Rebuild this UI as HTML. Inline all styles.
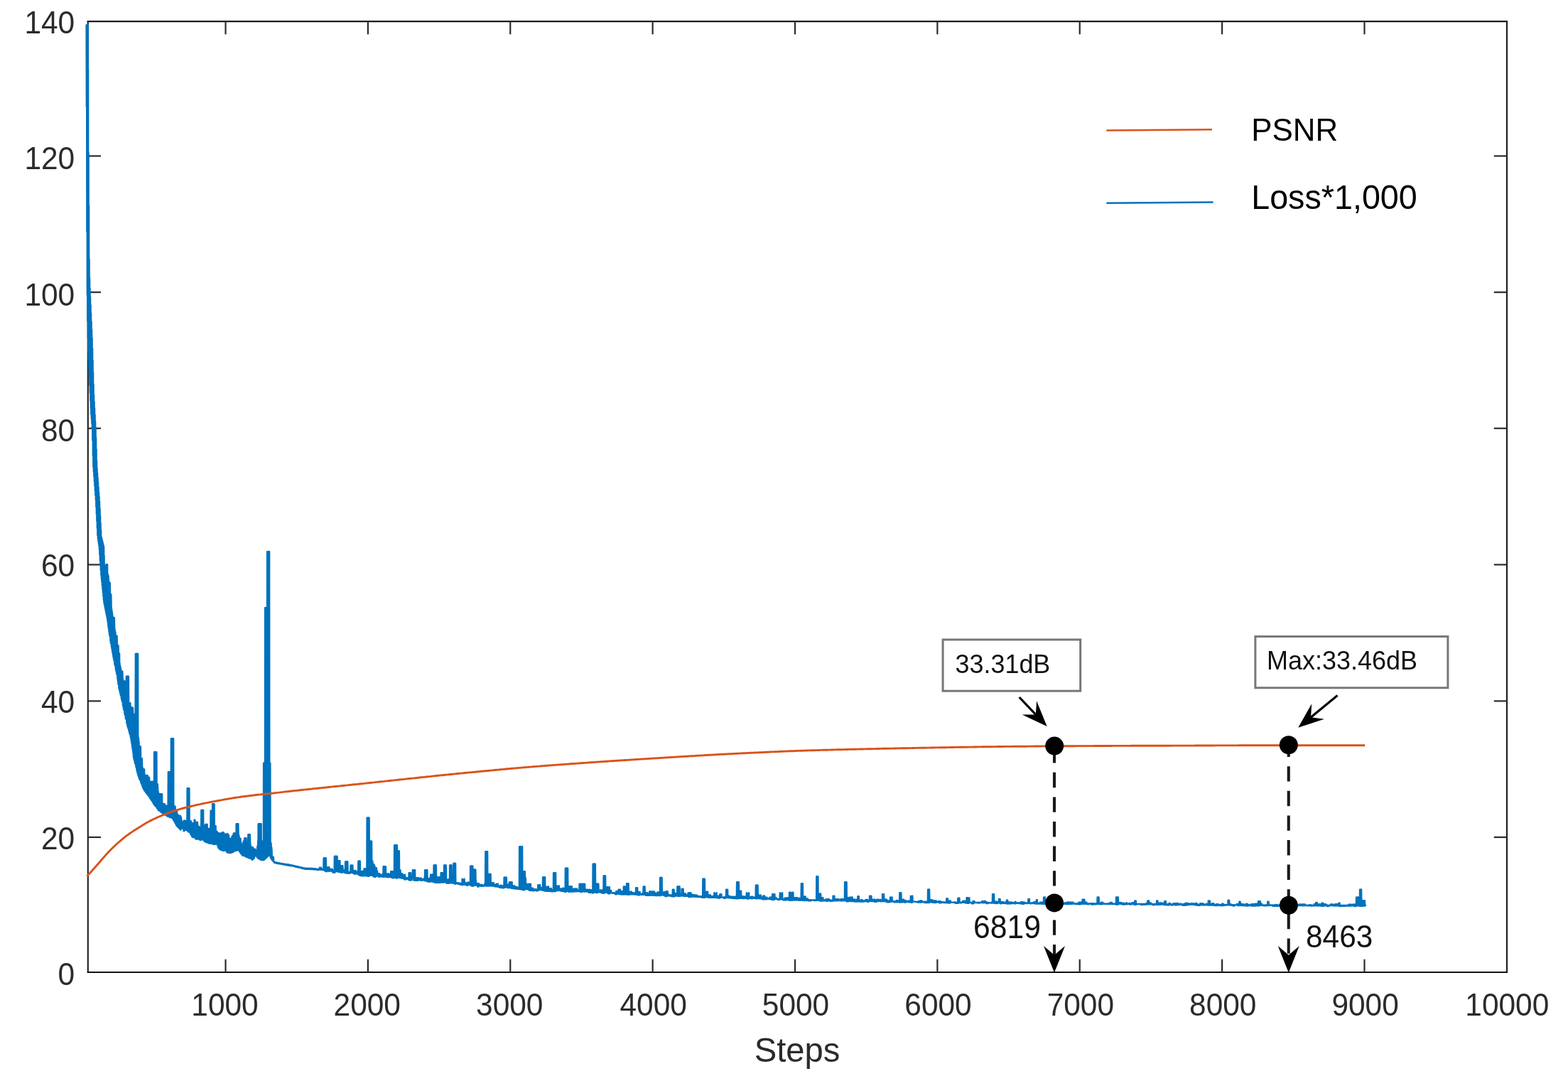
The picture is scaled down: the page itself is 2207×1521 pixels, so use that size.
<!DOCTYPE html>
<html lang="en">
<head>
<meta charset="utf-8">
<title>PSNR and Loss vs Steps</title>
<style>
html,body{margin:0;padding:0;background:#fff;}
body{width:2207px;height:1521px;overflow:hidden;}
svg{display:block;}
</style>
</head>
<body>
<svg width="2207" height="1521" viewBox="0 0 2207 1521" font-family="'Liberation Sans', sans-serif" role="img" aria-label="PSNR and Loss*1,000 versus training steps">
<rect x="0" y="0" width="2207" height="1521" fill="#ffffff"/>
<g fill="none" stroke-linecap="square">
<line x1="123.8" y1="30.1" x2="123.8" y2="1368.0" stroke="#262626" stroke-width="2.2"/>
<line x1="2121.0" y1="30.1" x2="2121.0" y2="1368.0" stroke="#1c1c1c" stroke-width="2.1"/>
<line x1="123.8" y1="30.1" x2="2121.0" y2="30.1" stroke="#1c1c1c" stroke-width="2.1"/>
<line x1="123.8" y1="1368.0" x2="2121.0" y2="1368.0" stroke="#101010" stroke-width="1.9"/>
</g>
<g stroke="#2b2b2b" stroke-width="2.2" fill="none" stroke-linecap="butt">
<line x1="317.50" y1="1368.0" x2="317.50" y2="1349.80"/>
<line x1="317.50" y1="30.1" x2="317.50" y2="48.30"/>
<line x1="517.88" y1="1368.0" x2="517.88" y2="1349.80"/>
<line x1="517.88" y1="30.1" x2="517.88" y2="48.30"/>
<line x1="718.25" y1="1368.0" x2="718.25" y2="1349.80"/>
<line x1="718.25" y1="30.1" x2="718.25" y2="48.30"/>
<line x1="918.62" y1="1368.0" x2="918.62" y2="1349.80"/>
<line x1="918.62" y1="30.1" x2="918.62" y2="48.30"/>
<line x1="1119.00" y1="1368.0" x2="1119.00" y2="1349.80"/>
<line x1="1119.00" y1="30.1" x2="1119.00" y2="48.30"/>
<line x1="1319.38" y1="1368.0" x2="1319.38" y2="1349.80"/>
<line x1="1319.38" y1="30.1" x2="1319.38" y2="48.30"/>
<line x1="1519.75" y1="1368.0" x2="1519.75" y2="1349.80"/>
<line x1="1519.75" y1="30.1" x2="1519.75" y2="48.30"/>
<line x1="1720.12" y1="1368.0" x2="1720.12" y2="1349.80"/>
<line x1="1720.12" y1="30.1" x2="1720.12" y2="48.30"/>
<line x1="1920.50" y1="1368.0" x2="1920.50" y2="1349.80"/>
<line x1="1920.50" y1="30.1" x2="1920.50" y2="48.30"/>
<line x1="123.8" y1="1178.00" x2="142.00" y2="1178.00"/>
<line x1="2121.0" y1="1178.00" x2="2102.80" y2="1178.00"/>
<line x1="123.8" y1="986.40" x2="142.00" y2="986.40"/>
<line x1="2121.0" y1="986.40" x2="2102.80" y2="986.40"/>
<line x1="123.8" y1="794.50" x2="142.00" y2="794.50"/>
<line x1="2121.0" y1="794.50" x2="2102.80" y2="794.50"/>
<line x1="123.8" y1="602.70" x2="142.00" y2="602.70"/>
<line x1="2121.0" y1="602.70" x2="2102.80" y2="602.70"/>
<line x1="123.8" y1="411.20" x2="142.00" y2="411.20"/>
<line x1="2121.0" y1="411.20" x2="2102.80" y2="411.20"/>
<line x1="123.8" y1="219.50" x2="142.00" y2="219.50"/>
<line x1="2121.0" y1="219.50" x2="2102.80" y2="219.50"/>
</g>
<path d="M121.60,34.9L121.85,150.1L122.10,34.9L122.35,326.0L122.60,34.9L122.85,415.0L123.10,34.9L123.35,451.7L123.60,34.9L123.85,475.2L124.10,97.1L124.35,493.3L124.60,215.0L124.85,505.9L125.10,290.0L125.35,518.6L125.60,365.0L125.85,531.1L126.10,391.3L126.35,541.9L126.60,405.4L126.85,552.8L127.10,417.9L127.35,563.7L127.60,429.4L127.85,574.5L128.10,440.9L128.35,583.1L128.60,452.4L128.85,589.3L129.10,463.9L129.35,595.5L129.60,475.4L129.85,601.7L130.10,490.1L130.35,619.6L130.60,506.9L130.85,640.4L131.10,523.7L131.35,657.0L131.60,540.6L131.85,663.6L132.10,555.9L132.35,670.3L132.60,565.2L132.85,677.0L133.10,574.5L133.35,683.6L133.60,583.6L133.85,690.3L134.10,592.4L134.35,697.0L134.60,601.3L134.85,703.6L135.10,616.0L135.35,713.0L135.60,632.3L135.85,723.0L136.10,648.5L136.35,733.0L136.60,659.0L136.85,743.0L137.10,665.7L137.35,753.0L137.60,672.4L137.85,757.6L138.10,679.0L138.35,760.9L138.60,685.7L138.85,764.3L139.10,692.4L139.35,767.6L139.60,699.0L139.85,772.4L140.10,706.0L140.35,780.4L140.60,716.0L140.85,788.4L141.10,726.0L141.35,795.9L141.60,736.0L141.85,802.3L142.10,746.0L142.35,808.7L142.60,755.3L142.85,813.9L143.10,757.3L143.35,818.8L143.60,759.3L143.85,823.8L144.10,761.3L144.35,828.7L144.60,763.3L144.85,833.6L145.10,765.3L145.35,838.6L145.60,767.3L145.85,843.5L146.10,769.3L146.35,847.6L146.60,781.7L146.85,850.1L147.10,794.7L147.35,852.6L147.60,796.1L147.85,855.1L148.10,797.5L148.35,857.6L148.60,799.0L148.85,860.1L149.10,800.4L149.35,862.6L149.60,794.2L149.85,865.1L150.10,794.2L150.35,867.6L150.60,794.2L150.85,870.1L151.10,794.2L151.35,872.9L151.60,807.5L151.85,876.3L152.10,808.9L152.35,881.1L152.60,810.6L152.85,884.5L153.10,816.5L153.35,887.9L153.60,820.0L153.85,891.3L154.10,820.0L154.35,894.7L154.60,820.0L154.85,820.0L155.10,836.5L155.35,901.5L155.60,836.5L155.85,904.9L156.10,836.5L156.35,836.5L156.60,853.2L156.85,909.5L157.10,856.5L157.35,912.3L157.60,859.9L157.85,915.2L158.10,863.3L158.35,918.0L158.60,866.7L158.85,920.5L159.10,869.1L159.35,923.4L159.60,869.1L159.85,926.2L160.10,869.1L160.35,929.1L160.60,869.1L160.85,869.1L161.10,882.4L161.35,934.4L161.60,885.4L161.85,936.5L162.10,888.4L162.35,889.9L162.60,891.4L162.85,941.7L163.10,894.4L163.35,943.7L163.60,895.0L163.85,945.7L164.10,895.0L164.35,948.7L164.60,895.0L164.85,905.0L165.10,906.5L165.35,954.4L165.60,908.5L165.85,958.5L166.10,908.5L166.35,962.5L166.60,908.5L166.85,919.3L167.10,919.4L167.35,968.5L167.60,919.4L167.85,969.7L168.10,919.4L168.35,971.9L168.60,933.5L168.85,974.1L169.10,936.6L169.35,976.3L169.60,939.0L169.85,978.6L170.10,941.4L170.35,942.6L170.60,943.8L170.85,983.0L171.10,944.6L171.35,984.5L171.60,944.6L171.85,986.7L172.10,944.6L172.35,944.6L172.60,953.2L172.85,991.4L173.10,955.4L173.35,993.9L173.60,957.6L173.85,996.4L174.10,959.8L174.35,998.9L174.60,962.0L174.85,958.8L175.10,958.8L175.35,1003.8L175.60,958.8L175.85,1006.3L176.10,958.8L176.35,958.8L176.60,970.2L176.85,1011.3L177.10,972.1L177.35,973.0L177.60,974.0L177.85,951.8L178.10,951.8L178.35,1017.5L178.60,951.8L178.85,951.8L179.10,951.8L179.35,1021.2L179.60,951.8L179.85,1023.0L180.10,951.8L180.35,1024.8L180.60,951.8L180.85,951.8L181.10,987.5L181.35,1028.0L181.60,989.1L181.85,1029.8L182.10,989.1L182.35,1031.6L182.60,989.1L182.85,1033.4L183.10,989.1L183.35,989.1L183.60,995.1L183.85,1037.5L184.10,995.1L184.35,1039.5L184.60,995.1L184.85,1042.8L185.10,995.1L185.35,1046.1L185.60,995.1L185.85,1049.4L186.10,996.3L186.35,1052.7L186.60,996.3L186.85,1056.0L187.10,996.3L187.35,1059.3L187.60,1008.3L187.85,1064.4L188.10,1009.9L188.35,1067.0L188.60,1005.0L188.85,1069.0L189.10,1005.0L189.35,1071.0L189.60,1005.0L189.85,1073.0L190.10,1005.0L190.35,1075.1L190.60,1018.8L190.85,920.0L191.10,920.0L191.35,1079.0L191.60,920.0L191.85,920.0L192.10,920.0L192.35,1083.0L192.60,920.0L192.85,1085.1L193.10,920.0L193.35,1087.1L193.60,920.0L193.85,1089.1L194.10,920.0L194.35,1090.7L194.60,1036.9L194.85,1092.1L195.10,1039.2L195.35,1093.4L195.60,1043.8L195.85,1094.8L196.10,1050.0L196.35,1096.2L196.60,1050.3L196.85,1097.5L197.10,1050.3L197.35,1050.3L197.60,1050.3L197.85,1050.3L198.10,1067.1L198.35,1101.1L198.60,1067.1L198.85,1102.3L199.10,1067.1L199.35,1103.4L199.60,1067.1L199.85,1067.1L200.10,1078.1L200.35,1106.3L200.60,1079.8L200.85,1107.4L201.10,1081.4L201.35,1108.4L201.60,1083.0L201.85,1109.5L202.10,1082.4L202.35,1110.5L202.60,1082.4L202.85,1111.6L203.10,1082.4L203.35,1112.6L203.60,1089.5L203.85,1112.8L204.10,1090.8L204.35,1113.5L204.60,1091.4L204.85,1114.3L205.10,1092.1L205.35,1115.0L205.60,1091.3L205.85,1115.8L206.10,1091.3L206.35,1116.5L206.60,1091.3L206.85,1116.7L207.10,1091.3L207.35,1117.5L207.60,1091.3L207.85,1091.3L208.10,1096.1L208.35,1119.0L208.60,1096.8L208.85,1119.1L209.10,1094.0L209.35,1119.9L209.60,1094.0L209.85,1120.6L210.10,1094.0L210.35,1121.4L210.60,1099.4L210.85,1122.1L211.10,1100.1L211.35,1123.4L211.60,1100.8L211.85,1100.0L212.10,1100.0L212.35,1124.8L212.60,1100.0L212.85,1125.5L213.10,1100.0L213.35,1126.2L213.60,1102.4L213.85,1100.0L214.10,1100.0L214.35,1127.6L214.60,1100.0L214.85,1128.3L215.10,1100.0L215.35,1129.0L215.60,1100.0L215.85,1130.3L216.10,1104.4L216.35,1131.0L216.60,1104.8L216.85,1131.7L217.10,1058.1L217.35,1132.4L217.60,1058.1L217.85,1133.0L218.10,1058.1L218.35,1133.6L218.60,1058.1L218.85,1134.3L219.10,1058.1L219.35,1134.9L219.60,1058.1L219.85,1058.1L220.10,1058.1L220.35,1058.1L220.60,1103.4L220.85,1137.0L221.10,1103.4L221.35,1137.6L221.60,1103.4L221.85,1103.4L222.10,1111.3L222.35,1138.9L222.60,1113.5L222.85,1139.6L223.10,1115.8L223.35,1116.9L223.60,1117.1L223.85,1140.8L224.10,1117.1L224.35,1140.2L224.60,1117.1L224.85,1140.9L225.10,1117.1L225.35,1117.1L225.60,1123.0L225.85,1117.2L226.10,1117.2L226.35,1142.5L226.60,1117.2L226.85,1142.8L227.10,1117.2L227.35,1143.1L227.60,1117.2L227.85,1117.2L228.10,1117.2L228.35,1143.9L228.60,1129.8L228.85,1144.3L229.10,1130.7L229.35,1144.6L229.60,1131.2L229.85,1144.9L230.10,1131.7L230.35,1145.2L230.60,1132.2L230.85,1145.5L231.10,1131.3L231.35,1145.4L231.60,1131.3L231.85,1131.3L232.10,1133.7L232.35,1146.1L232.60,1133.7L232.85,1146.4L233.10,1133.7L233.35,1146.7L233.60,1133.7L233.85,1147.0L234.10,1133.7L234.35,1133.7L234.60,1135.1L234.85,1147.9L235.10,1135.2L235.35,1148.2L235.60,1135.3L235.85,1148.5L236.10,1135.4L236.35,1132.9L236.60,1132.9L236.85,1086.2L237.10,1086.2L237.35,1149.0L237.60,1086.2L237.85,1149.2L238.10,1086.2L238.35,1149.3L238.60,1086.2L238.85,1149.5L239.10,1086.2L239.35,1149.9L239.60,1086.2L239.85,1150.1L240.10,1134.1L240.35,1150.2L240.60,1134.1L240.85,1039.2L241.10,1039.2L241.35,1150.6L241.60,1039.2L241.85,1150.8L242.10,1039.2L242.35,1039.2L242.60,1039.2L242.85,1151.1L243.10,1039.2L243.35,1152.3L243.60,1039.2L243.85,1153.1L244.10,1039.2L244.35,1154.0L244.60,1135.0L244.85,1154.9L245.10,1136.9L245.35,1134.8L245.60,1134.8L245.85,1156.6L246.10,1134.8L246.35,1157.5L246.60,1134.8L246.85,1158.3L247.10,1141.3L247.35,1159.2L247.60,1141.0L247.85,1160.5L248.10,1141.0L248.35,1161.4L248.60,1141.0L248.85,1141.0L249.10,1144.8L249.35,1162.5L249.60,1145.5L249.85,1163.1L250.10,1146.1L250.35,1163.6L250.60,1146.7L250.85,1164.1L251.10,1147.3L251.35,1164.6L251.60,1148.0L251.85,1165.1L252.10,1148.6L252.35,1148.0L252.60,1148.0L252.85,1166.2L253.10,1148.0L253.35,1166.7L253.60,1148.0L253.85,1148.0L254.10,1149.8L254.35,1167.6L254.60,1149.8L254.85,1149.8L255.10,1153.3L255.35,1166.0L255.60,1154.1L255.85,1165.4L256.10,1156.9L256.35,1165.4L256.60,1157.6L256.85,1163.9L257.10,1157.1L257.35,1163.5L257.60,1157.8L257.85,1164.4L258.10,1156.3L258.35,1168.9L258.60,1156.4L258.85,1154.7L259.10,1154.7L259.35,1169.2L259.60,1154.7L259.85,1154.7L260.10,1154.7L260.35,1154.7L260.60,1154.9L260.85,1167.8L261.10,1154.9L261.35,1167.9L261.60,1154.9L261.85,1168.0L262.10,1157.7L262.35,1165.9L262.60,1160.0L262.85,1166.3L263.10,1156.1L263.35,1168.5L263.60,1109.2L263.85,1168.7L264.10,1109.2L264.35,1109.2L264.60,1109.2L264.85,1170.2L265.10,1109.2L265.35,1170.3L265.60,1109.2L265.85,1170.5L266.10,1109.2L266.35,1109.2L266.60,1155.4L266.85,1170.8L267.10,1155.4L267.35,1171.6L267.60,1155.4L267.85,1172.7L268.10,1155.4L268.35,1173.7L268.60,1155.4L268.85,1155.4L269.10,1157.8L269.35,1175.1L269.60,1158.1L269.85,1176.2L270.10,1158.4L270.35,1177.2L270.60,1158.7L270.85,1158.3L271.10,1158.3L271.35,1178.0L271.60,1158.3L271.85,1178.1L272.10,1158.3L272.35,1158.3L272.60,1159.9L272.85,1178.1L273.10,1159.2L273.35,1178.2L273.60,1153.8L273.85,1178.3L274.10,1153.8L274.35,1153.8L274.60,1157.1L274.85,1178.6L275.10,1156.9L275.35,1180.3L275.60,1157.8L275.85,1180.5L276.10,1158.7L276.35,1156.9L276.60,1156.9L276.85,1180.7L277.10,1156.9L277.35,1180.0L277.60,1156.9L277.85,1156.9L278.10,1162.2L278.35,1180.3L278.60,1163.1L278.85,1163.0L279.10,1163.0L279.35,1180.6L279.60,1163.0L279.85,1180.7L280.10,1163.0L280.35,1163.0L280.60,1164.5L280.85,1181.5L281.10,1164.3L281.35,1181.6L281.60,1164.1L281.85,1181.7L282.10,1163.9L282.35,1181.9L282.60,1163.7L282.85,1182.0L283.10,1163.5L283.35,1140.0L283.60,1140.0L283.85,1140.0L284.10,1140.0L284.35,1181.4L284.60,1140.0L284.85,1140.0L285.10,1140.0L285.35,1181.1L285.60,1140.0L285.85,1181.3L286.10,1140.0L286.35,1181.5L286.60,1162.0L286.85,1181.8L287.10,1161.8L287.35,1183.4L287.60,1161.6L287.85,1183.7L288.10,1161.4L288.35,1183.9L288.60,1161.2L288.85,1184.2L289.10,1161.9L289.35,1160.0L289.60,1160.0L289.85,1184.7L290.10,1160.0L290.35,1184.9L290.60,1160.0L290.85,1185.2L291.10,1160.0L291.35,1160.0L291.60,1160.0L291.85,1185.3L292.10,1165.4L292.35,1185.6L292.60,1165.4L292.85,1165.4L293.10,1166.1L293.35,1186.1L293.60,1166.1L293.85,1186.3L294.10,1166.1L294.35,1186.6L294.60,1166.1L294.85,1186.8L295.10,1166.1L295.35,1186.6L295.60,1166.1L295.85,1186.6L296.10,1166.1L296.35,1162.8L296.60,1140.6L296.85,1186.7L297.10,1140.6L297.35,1140.6L297.60,1140.6L297.85,1186.7L298.10,1140.6L298.35,1186.8L298.60,1140.6L298.85,1186.8L299.10,1131.2L299.35,1186.8L299.60,1131.2L299.85,1187.7L300.10,1131.2L300.35,1187.8L300.60,1131.2L300.85,1187.8L301.10,1131.2L301.35,1131.2L301.60,1131.2L301.85,1187.8L302.10,1162.3L302.35,1187.9L302.60,1162.3L302.85,1187.9L303.10,1162.3L303.35,1187.5L303.60,1162.3L303.85,1187.5L304.10,1169.0L304.35,1187.6L304.60,1170.0L304.85,1187.6L305.10,1170.0L305.35,1187.6L305.60,1170.0L305.85,1188.3L306.10,1172.3L306.35,1190.3L306.60,1172.3L306.85,1191.3L307.10,1172.3L307.35,1192.4L307.60,1172.3L307.85,1193.4L308.10,1172.3L308.35,1172.3L308.60,1174.2L308.85,1194.6L309.10,1174.4L309.35,1194.8L309.60,1174.5L309.85,1195.1L310.10,1172.6L310.35,1195.4L310.60,1172.6L310.85,1195.7L311.10,1172.6L311.35,1195.9L311.60,1172.6L311.85,1196.2L312.10,1172.6L312.35,1196.4L312.60,1171.5L312.85,1196.2L313.10,1171.5L313.35,1196.5L313.60,1171.5L313.85,1196.7L314.10,1171.5L314.35,1197.0L314.60,1171.5L314.85,1171.5L315.10,1175.9L315.35,1195.9L315.60,1176.0L315.85,1196.2L316.10,1176.1L316.35,1196.4L316.60,1173.7L316.85,1196.7L317.10,1173.7L317.35,1196.8L317.60,1173.7L317.85,1197.0L318.10,1174.7L318.35,1197.1L318.60,1174.3L318.85,1197.2L319.10,1173.8L319.35,1199.1L319.60,1173.4L319.85,1199.3L320.10,1173.0L320.35,1199.4L320.60,1173.4L320.85,1199.6L321.10,1175.0L321.35,1199.7L321.60,1175.0L321.85,1175.0L322.10,1178.3L322.35,1199.5L322.60,1180.0L322.85,1199.7L323.10,1181.6L323.35,1199.8L323.60,1179.9L323.85,1200.0L324.10,1179.9L324.35,1199.8L324.60,1179.9L324.85,1200.0L325.10,1179.9L325.35,1199.8L325.60,1179.9L325.85,1199.7L326.10,1179.2L326.35,1199.5L326.60,1178.2L326.85,1176.1L327.10,1176.1L327.35,1199.1L327.60,1176.1L327.85,1175.8L328.10,1175.3L328.35,1198.8L328.60,1174.4L328.85,1172.4L329.10,1172.4L329.35,1197.7L329.60,1172.4L329.85,1197.5L330.10,1172.4L330.35,1197.3L330.60,1172.4L330.85,1197.1L331.10,1174.0L331.35,1197.0L331.60,1174.3L331.85,1196.8L332.10,1174.5L332.35,1196.6L332.60,1159.2L332.85,1196.8L333.10,1159.2L333.35,1196.6L333.60,1159.2L333.85,1159.2L334.10,1159.2L334.35,1159.2L334.60,1159.2L334.85,1196.0L335.10,1159.2L335.35,1159.2L335.60,1174.5L335.85,1196.5L336.10,1174.5L336.35,1197.1L336.60,1176.9L336.85,1197.7L337.10,1178.5L337.35,1198.2L337.60,1180.1L337.85,1180.0L338.10,1180.0L338.35,1200.0L338.60,1180.0L338.85,1200.5L339.10,1185.0L339.35,1201.1L339.60,1186.6L339.85,1201.7L340.10,1188.2L340.35,1202.3L340.60,1189.7L340.85,1202.8L341.10,1188.8L341.35,1203.4L341.60,1187.9L341.85,1204.0L342.10,1187.0L342.35,1203.5L342.60,1183.8L342.85,1203.7L343.10,1183.8L343.35,1203.9L343.60,1183.8L343.85,1204.1L344.10,1179.5L344.35,1204.3L344.60,1179.5L344.85,1204.5L345.10,1179.5L345.35,1205.1L345.60,1179.5L345.85,1205.3L346.10,1179.5L346.35,1205.5L346.60,1179.5L346.85,1205.7L347.10,1184.6L347.35,1205.9L347.60,1185.2L347.85,1206.1L348.10,1185.7L348.35,1206.3L348.60,1184.8L348.85,1206.5L349.10,1184.8L349.35,1174.2L349.60,1174.2L349.85,1206.8L350.10,1174.2L350.35,1207.2L350.60,1174.2L350.85,1207.3L351.10,1174.2L351.35,1207.5L351.60,1174.2L351.85,1174.2L352.10,1186.4L352.35,1186.4L352.60,1190.5L352.85,1208.0L353.10,1191.0L353.35,1208.2L353.60,1191.5L353.85,1208.4L354.10,1192.0L354.35,1192.3L354.60,1192.5L354.85,1209.7L355.10,1192.5L355.35,1209.4L355.60,1192.5L355.85,1209.0L356.10,1192.5L356.35,1208.7L356.60,1194.8L356.85,1208.3L357.10,1194.8L357.35,1208.0L357.60,1194.8L357.85,1207.6L358.10,1194.8L358.35,1203.3L358.60,1195.0L358.85,1203.1L359.10,1194.8L359.35,1203.7L359.60,1199.5L359.85,1204.5L360.10,1200.0L360.35,1196.4L360.60,1196.9L360.85,1203.7L361.10,1198.0L361.35,1204.3L361.60,1196.1L361.85,1206.1L362.10,1192.8L362.35,1191.5L362.60,1190.2L362.85,1207.3L363.10,1183.6L363.35,1207.6L363.60,1159.2L363.85,1207.9L364.10,1159.2L364.35,1208.1L364.60,1159.2L364.85,1208.4L365.10,1159.2L365.35,1208.6L365.60,1159.2L365.85,1209.0L366.10,1159.2L366.35,1159.2L366.60,1159.2L366.85,1209.5L367.10,1159.2L367.35,1209.8L367.60,1159.2L367.85,1210.0L368.10,1186.1L368.35,1210.3L368.60,1183.7L368.85,1209.3L369.10,1183.7L369.35,1209.5L369.60,1183.7L369.85,1183.7L370.10,1186.2L370.35,1209.4L370.60,1186.2L370.85,1210.3L371.10,1073.7L371.35,1209.9L371.60,1073.7L371.85,1209.5L372.10,1073.7L372.35,1209.1L372.60,1073.7L372.85,1208.7L373.10,855.2L373.35,855.2L373.60,855.2L373.85,1207.9L374.10,855.2L374.35,1207.1L374.60,855.2L374.85,1206.7L375.10,855.2L375.35,1206.3L375.60,855.2L375.85,1073.7L376.10,776.2L376.35,1205.5L376.60,776.2L376.85,1204.8L377.10,776.2L377.35,776.2L377.60,776.2L377.85,1204.0L378.10,776.2L378.35,1203.6L378.60,776.2L378.85,1203.2L379.10,776.2L379.35,1203.6L379.60,1073.7L379.85,1204.4L380.10,1073.7L380.35,1073.7L380.60,1184.0L380.85,1206.8L381.10,1185.7L381.35,1207.6L381.60,1186.5L381.85,1208.5L382.10,1191.9L382.35,1194.7L382.60,1197.4L382.85,1209.6L383.10,1204.5L383.35,1210.7L383.60,1206.0L383.85,1211.4L384.10,1206.7L384.35,1211.5L384.60,1207.2L384.85,1205.9L385.10,1211.2L385.35,1212.6L385.60,1212.7L385.85,1213.6L386.10,1212.8L386.35,1213.9L386.60,1213.1L386.85,1214.0L387.10,1213.0L387.35,1214.0L387.60,1213.3L387.85,1214.1L388.10,1213.3L388.35,1214.2L388.60,1213.5L388.85,1214.3L389.10,1213.5L389.35,1214.4L389.60,1213.7L389.85,1214.9L390.10,1213.8L390.35,1214.9L390.60,1214.1L390.85,1215.0L391.10,1214.2L391.35,1215.1L391.60,1214.3L391.85,1215.2L392.10,1214.3L392.35,1215.0L392.60,1214.4L392.85,1215.1L393.10,1214.6L393.35,1215.2L393.60,1214.6L393.85,1215.3L394.10,1214.7L394.35,1215.4L394.60,1214.9L394.85,1215.4L395.10,1214.9L395.35,1215.5L395.60,1214.9L395.85,1215.6L396.10,1215.0L396.35,1215.7L396.60,1215.1L396.85,1215.9L397.10,1215.2L397.35,1216.0L397.60,1215.3L397.85,1216.1L398.10,1215.4L398.35,1216.2L398.60,1215.5L398.85,1216.3L399.10,1215.6L399.35,1216.4L399.60,1215.6L399.85,1216.4L400.10,1215.8L400.35,1216.5L400.60,1215.9L400.85,1216.7L401.10,1215.9L401.35,1216.8L401.60,1216.0L401.85,1216.8L402.10,1216.1L402.35,1216.9L402.60,1216.1L402.85,1217.0L403.10,1216.1L403.35,1217.1L403.60,1216.2L403.85,1217.2L404.10,1216.4L404.35,1217.4L404.60,1216.5L404.85,1217.5L405.10,1216.5L405.35,1217.6L405.60,1216.6L405.85,1217.6L406.10,1216.7L406.35,1217.7L406.60,1216.7L406.85,1217.8L407.10,1216.8L407.35,1217.8L407.60,1217.0L407.85,1217.8L408.10,1217.0L408.35,1217.9L408.60,1217.1L408.85,1218.0L409.10,1217.3L409.35,1218.1L409.60,1217.3L409.85,1218.2L410.10,1217.5L410.35,1218.1L410.60,1217.5L410.85,1218.2L411.10,1217.6L411.35,1218.2L411.60,1217.6L411.85,1218.4L412.10,1217.7L412.35,1218.5L412.60,1218.0L412.85,1218.6L413.10,1218.0L413.35,1218.7L413.60,1218.2L413.85,1218.8L414.10,1218.2L414.35,1219.0L414.60,1218.3L414.85,1219.1L415.10,1218.6L415.35,1219.3L415.60,1218.6L415.85,1219.4L416.10,1218.7L416.35,1219.7L416.60,1219.0L416.85,1219.8L417.10,1218.9L417.35,1219.9L417.60,1219.2L417.85,1220.0L418.10,1219.2L418.35,1220.1L418.60,1219.2L418.85,1220.2L419.10,1219.4L419.35,1220.3L419.60,1219.5L419.85,1220.5L420.10,1219.6L420.35,1220.3L420.60,1219.8L420.85,1220.4L421.10,1219.8L421.35,1220.5L421.60,1219.9L421.85,1220.6L422.10,1220.0L422.35,1220.8L422.60,1220.2L422.85,1220.9L423.10,1220.4L423.35,1221.0L423.60,1220.4L423.85,1221.1L424.10,1220.6L424.35,1221.5L424.60,1220.7L424.85,1221.6L425.10,1220.7L425.35,1221.7L425.60,1220.9L425.85,1221.9L426.10,1221.2L426.35,1222.0L426.60,1221.1L426.85,1222.1L427.10,1221.4L427.35,1222.2L427.60,1221.4L427.85,1222.3L428.10,1221.4L428.35,1222.4L428.60,1221.5L428.85,1222.4L429.10,1221.7L429.35,1222.6L429.60,1221.8L429.85,1222.7L430.10,1221.9L430.35,1222.8L430.60,1221.9L430.85,1222.8L431.10,1222.0L431.35,1222.8L431.60,1222.0L431.85,1222.8L432.10,1221.9L432.35,1222.9L432.60,1221.9L432.85,1222.9L433.10,1222.1L433.35,1222.7L433.60,1221.9L433.85,1222.7L434.10,1222.1L434.35,1222.8L434.60,1222.0L434.85,1222.8L435.10,1222.1L435.35,1222.8L435.60,1222.0L435.85,1222.9L436.10,1222.0L436.35,1222.9L436.60,1222.1L436.85,1222.9L437.10,1222.2L437.35,1222.9L437.60,1222.1L437.85,1222.9L438.10,1222.0L438.35,1223.0L438.60,1222.0L438.85,1223.0L439.10,1222.3L439.35,1223.0L439.60,1222.1L439.85,1223.1L440.10,1222.1L440.35,1223.2L440.60,1222.3L440.85,1223.2L441.10,1222.3L441.35,1223.2L441.60,1222.3L441.85,1223.2L442.10,1222.2L442.35,1223.3L442.60,1222.3L442.85,1223.4L443.10,1222.3L443.35,1223.4L443.60,1222.3L443.85,1223.4L444.10,1222.7L444.35,1223.4L444.60,1222.6L444.85,1223.4L445.10,1222.6L445.35,1223.7L445.60,1222.9L445.85,1223.7L446.10,1223.0L446.35,1223.7L446.60,1223.0L446.85,1223.7L447.10,1222.9L447.35,1223.9L447.60,1223.0L447.85,1223.9L448.10,1223.1L448.35,1223.9L448.60,1223.2L448.85,1223.9L449.10,1223.3L449.35,1223.2L449.60,1223.2L449.85,1220.7L450.10,1221.3L450.35,1223.2L450.60,1221.3L450.85,1223.2L451.10,1220.9L451.35,1223.7L451.60,1221.1L451.85,1223.7L452.10,1220.7L452.35,1223.7L452.60,1223.4L452.85,1223.7L453.10,1223.5L453.35,1223.7L453.60,1223.4L453.85,1223.7L454.10,1223.5L454.35,1223.7L454.60,1222.8L454.85,1223.7L455.10,1222.8L455.35,1221.5L455.60,1207.5L455.85,1224.1L456.10,1207.5L456.35,1224.7L456.60,1207.5L456.85,1225.0L457.10,1207.5L457.35,1225.3L457.60,1207.5L457.85,1225.6L458.10,1207.5L458.35,1207.5L458.60,1207.5L458.85,1207.5L459.10,1223.9L459.35,1226.3L459.60,1220.2L459.85,1226.3L460.10,1220.2L460.35,1225.5L460.60,1220.6L460.85,1225.5L461.10,1221.2L461.35,1225.6L461.60,1220.3L461.85,1225.6L462.10,1220.4L462.35,1225.6L462.60,1221.1L462.85,1225.7L463.10,1221.1L463.35,1220.2L463.60,1222.9L463.85,1225.7L464.10,1223.3L464.35,1225.5L464.60,1222.9L464.85,1225.5L465.10,1223.4L465.35,1225.5L465.60,1223.3L465.85,1222.9L466.10,1223.3L466.35,1222.9L466.60,1223.4L466.85,1225.6L467.10,1222.9L467.35,1225.7L467.60,1222.9L467.85,1223.5L468.10,1225.4L468.35,1227.5L468.60,1225.7L468.85,1227.5L469.10,1225.4L469.35,1227.6L469.60,1225.7L469.85,1227.6L470.10,1225.6L470.35,1227.6L470.60,1225.7L470.85,1205.0L471.10,1205.0L471.35,1227.7L471.60,1205.0L471.85,1226.0L472.10,1205.0L472.35,1226.0L472.60,1205.0L472.85,1205.0L473.10,1205.0L473.35,1226.1L473.60,1205.0L473.85,1226.1L474.10,1205.0L474.35,1226.1L474.60,1205.0L474.85,1226.2L475.10,1223.3L475.35,1220.8L475.60,1211.2L475.85,1226.2L476.10,1211.2L476.35,1226.8L476.60,1211.2L476.85,1226.8L477.10,1211.2L477.35,1211.2L477.60,1211.2L477.85,1226.9L478.10,1211.2L478.35,1211.2L478.60,1222.1L478.85,1227.0L479.10,1220.8L479.35,1220.8L479.60,1218.2L479.85,1218.2L480.10,1218.2L480.35,1227.7L480.60,1219.8L480.85,1227.7L481.10,1219.3L481.35,1227.7L481.60,1218.2L481.85,1227.2L482.10,1218.8L482.35,1218.2L482.60,1223.6L482.85,1224.3L483.10,1224.3L483.35,1227.3L483.60,1224.9L483.85,1227.3L484.10,1224.3L484.35,1227.3L484.60,1225.6L484.85,1227.4L485.10,1225.4L485.35,1227.4L485.60,1225.7L485.85,1228.3L486.10,1212.5L486.35,1212.5L486.60,1212.5L486.85,1228.4L487.10,1212.5L487.35,1228.4L487.60,1212.5L487.85,1228.5L488.10,1212.5L488.35,1228.5L488.60,1212.5L488.85,1228.5L489.10,1212.5L489.35,1212.5L489.60,1227.0L489.85,1228.6L490.10,1227.2L490.35,1228.6L490.60,1227.1L490.85,1228.6L491.10,1227.2L491.35,1228.7L491.60,1227.1L491.85,1228.7L492.10,1227.2L492.35,1228.7L492.60,1227.1L492.85,1227.7L493.10,1225.5L493.35,1227.7L493.60,1217.5L493.85,1227.7L494.10,1217.7L494.35,1227.8L494.60,1217.5L494.85,1227.8L495.10,1218.7L495.35,1227.8L495.60,1219.0L495.85,1227.9L496.10,1217.6L496.35,1217.5L496.60,1227.4L496.85,1228.0L497.10,1224.9L497.35,1229.0L497.60,1225.6L497.85,1229.1L498.10,1225.9L498.35,1229.3L498.60,1225.3L498.85,1224.9L499.10,1225.4L499.35,1229.6L499.60,1226.0L499.85,1229.7L500.10,1225.4L500.35,1229.8L500.60,1224.9L500.85,1226.6L501.10,1227.1L501.35,1229.1L501.60,1226.9L501.85,1229.2L502.10,1226.8L502.35,1229.4L502.60,1226.8L502.85,1229.5L503.10,1226.6L503.35,1229.6L503.60,1226.6L503.85,1229.8L504.10,1226.8L504.35,1211.8L504.60,1211.8L504.85,1231.1L505.10,1211.8L505.35,1231.2L505.60,1211.8L505.85,1231.4L506.10,1211.8L506.35,1231.5L506.60,1211.8L506.85,1211.8L507.10,1230.4L507.35,1231.8L507.60,1225.9L507.85,1231.9L508.10,1226.1L508.35,1232.2L508.60,1227.2L508.85,1232.2L509.10,1227.4L509.35,1232.2L509.60,1225.9L509.85,1232.2L510.10,1226.0L510.35,1232.2L510.60,1226.0L510.85,1232.2L511.10,1225.9L511.35,1228.4L511.60,1228.4L511.85,1232.2L512.10,1229.3L512.35,1232.1L512.60,1222.3L512.85,1232.1L513.10,1222.4L513.35,1232.1L513.60,1223.9L513.85,1232.1L514.10,1223.0L514.35,1232.0L514.60,1222.7L514.85,1222.3L515.10,1222.9L515.35,1232.4L515.60,1224.0L515.85,1222.3L516.10,1228.8L516.35,1232.5L516.60,1150.6L516.85,1150.6L517.10,1150.6L517.35,1232.6L517.60,1150.6L517.85,1232.6L518.10,1150.6L518.35,1232.7L518.60,1150.6L518.85,1232.7L519.10,1150.6L519.35,1232.8L519.60,1150.6L519.85,1225.0L520.10,1229.8L520.35,1211.5L520.60,1183.7L520.85,1231.3L521.10,1183.7L521.35,1231.3L521.60,1183.7L521.85,1231.7L522.10,1183.7L522.35,1231.8L522.60,1183.7L522.85,1231.8L523.10,1183.7L523.35,1231.9L523.60,1211.5L523.85,1211.5L524.10,1211.5L524.35,1211.5L524.60,1216.2L524.85,1232.0L525.10,1216.2L525.35,1232.1L525.60,1216.2L525.85,1233.5L526.10,1216.2L526.35,1216.2L526.60,1218.3L526.85,1233.6L527.10,1218.3L527.35,1218.3L527.60,1221.2L527.85,1233.7L528.10,1221.2L528.35,1221.2L528.60,1221.2L528.85,1233.8L529.10,1223.6L529.35,1232.5L529.60,1222.8L529.85,1221.2L530.10,1226.1L530.35,1232.5L530.60,1225.7L530.85,1225.7L531.10,1225.7L531.35,1232.6L531.60,1229.4L531.85,1232.6L532.10,1229.9L532.35,1233.5L532.60,1229.9L532.85,1233.5L533.10,1229.5L533.35,1233.5L533.60,1229.5L533.85,1233.6L534.10,1229.2L534.35,1230.2L534.60,1231.0L534.85,1233.6L535.10,1231.3L535.35,1230.6L535.60,1231.0L535.85,1233.2L536.10,1231.2L536.35,1233.2L536.60,1231.0L536.85,1233.2L537.10,1231.0L537.35,1233.3L537.60,1231.0L537.85,1230.6L538.10,1231.2L538.35,1230.6L538.60,1230.1L538.85,1233.9L539.10,1230.8L539.35,1234.0L539.60,1219.3L539.85,1233.4L540.10,1219.3L540.35,1233.5L540.60,1219.3L540.85,1219.3L541.10,1219.3L541.35,1233.5L541.60,1219.3L541.85,1233.6L542.10,1219.3L542.35,1233.6L542.60,1219.3L542.85,1219.3L543.10,1232.7L543.35,1231.8L543.60,1229.5L543.85,1233.7L544.10,1230.3L544.35,1234.1L544.60,1229.7L544.85,1234.1L545.10,1229.8L545.35,1234.1L545.60,1230.5L545.85,1234.2L546.10,1229.5L546.35,1229.5L546.60,1229.5L546.85,1234.2L547.10,1229.9L547.35,1229.5L547.60,1230.5L547.85,1233.8L548.10,1231.2L548.35,1233.8L548.60,1231.3L548.85,1230.5L549.10,1231.9L549.35,1233.9L549.60,1231.6L549.85,1234.4L550.10,1226.2L550.35,1234.4L550.60,1226.2L550.85,1234.5L551.10,1227.8L551.35,1234.5L551.60,1226.2L551.85,1234.6L552.10,1227.6L552.35,1235.2L552.60,1226.9L552.85,1226.2L553.10,1231.6L553.35,1235.3L553.60,1231.2L553.85,1235.3L554.10,1230.7L554.35,1230.6L554.60,1233.6L554.85,1234.6L555.10,1189.3L555.35,1234.6L555.60,1189.3L555.85,1234.7L556.10,1189.3L556.35,1234.7L556.60,1189.3L556.85,1234.8L557.10,1189.3L557.35,1234.8L557.60,1189.3L557.85,1235.8L558.10,1189.3L558.35,1235.8L558.60,1189.3L558.85,1189.3L559.10,1233.0L559.35,1197.5L559.60,1197.5L559.85,1234.8L560.10,1197.5L560.35,1234.8L560.60,1197.5L560.85,1234.9L561.10,1197.5L561.35,1234.9L561.60,1197.5L561.85,1197.5L562.10,1226.1L562.35,1234.9L562.60,1224.5L562.85,1234.9L563.10,1226.6L563.35,1235.0L563.60,1224.5L563.85,1235.0L564.10,1229.4L564.35,1235.5L564.60,1229.4L564.85,1229.4L565.10,1229.5L565.35,1235.6L565.60,1229.4L565.85,1235.6L566.10,1229.4L566.35,1230.8L566.60,1231.6L566.85,1235.8L567.10,1231.3L567.35,1235.9L567.60,1231.4L567.85,1235.9L568.10,1231.9L568.35,1230.8L568.60,1232.0L568.85,1237.2L569.10,1232.4L569.35,1237.2L569.60,1232.1L569.85,1230.8L570.10,1234.2L570.35,1237.4L570.60,1234.3L570.85,1234.2L571.10,1235.8L571.35,1237.5L571.60,1235.8L571.85,1236.4L572.10,1235.7L572.35,1236.4L572.60,1235.9L572.85,1236.5L573.10,1235.1L573.35,1236.6L573.60,1235.2L573.85,1236.7L574.10,1235.3L574.35,1235.1L574.60,1236.1L574.85,1236.8L575.10,1236.2L575.35,1238.2L575.60,1228.1L575.85,1238.3L576.10,1228.7L576.35,1238.4L576.60,1228.4L576.85,1228.1L577.10,1229.5L577.35,1238.5L577.60,1229.3L577.85,1238.6L578.10,1228.1L578.35,1238.6L578.60,1235.6L578.85,1238.3L579.10,1235.6L579.35,1238.3L579.60,1235.8L579.85,1234.4L580.10,1234.7L580.35,1234.4L580.60,1235.3L580.85,1224.3L581.10,1224.3L581.35,1224.3L581.60,1224.3L581.85,1224.3L582.10,1224.3L582.35,1238.5L582.60,1224.3L582.85,1238.5L583.10,1224.3L583.35,1238.6L583.60,1224.3L583.85,1238.8L584.10,1224.3L584.35,1238.8L584.60,1234.9L584.85,1235.1L585.10,1235.4L585.35,1238.9L585.60,1235.7L585.85,1238.9L586.10,1235.8L586.35,1238.9L586.60,1235.4L586.85,1235.1L587.10,1235.5L587.35,1239.0L587.60,1235.7L587.85,1239.0L588.10,1235.1L588.35,1235.1L588.60,1235.1L588.85,1235.6L589.10,1236.0L589.35,1238.2L589.60,1235.7L589.85,1238.2L590.10,1235.8L590.35,1238.3L590.60,1236.1L590.85,1238.3L591.10,1236.3L591.35,1238.4L591.60,1236.3L591.85,1238.4L592.10,1235.8L592.35,1238.7L592.60,1235.8L592.85,1235.6L593.10,1237.6L593.35,1238.8L593.60,1237.7L593.85,1238.9L594.10,1237.0L594.35,1238.3L594.60,1237.1L594.85,1238.4L595.10,1237.3L595.35,1238.4L595.60,1237.3L595.85,1238.5L596.10,1237.2L596.35,1238.5L596.60,1237.2L596.85,1238.6L597.10,1237.2L597.35,1235.1L597.60,1235.1L597.85,1238.7L598.10,1224.3L598.35,1239.4L598.60,1224.3L598.85,1239.4L599.10,1224.3L599.35,1239.5L599.60,1224.3L599.85,1239.5L600.10,1224.3L600.35,1239.6L600.60,1224.3L600.85,1239.6L601.10,1224.3L601.35,1224.3L601.60,1238.7L601.85,1240.4L602.10,1235.7L602.35,1240.5L602.60,1236.8L602.85,1240.5L603.10,1236.8L603.35,1240.6L603.60,1236.9L603.85,1240.6L604.10,1236.7L604.35,1240.7L604.60,1235.8L604.85,1240.7L605.10,1236.1L605.35,1239.4L605.60,1236.4L605.85,1235.7L606.10,1230.6L606.35,1239.5L606.60,1230.6L606.85,1239.5L607.10,1231.3L607.35,1240.5L607.60,1232.1L607.85,1240.5L608.10,1230.7L608.35,1230.6L608.60,1231.1L608.85,1230.6L609.10,1237.0L609.35,1240.7L609.60,1236.6L609.85,1240.7L610.10,1236.6L610.35,1240.8L610.60,1217.5L610.85,1240.8L611.10,1217.5L611.35,1240.9L611.60,1217.5L611.85,1241.6L612.10,1217.5L612.35,1241.7L612.60,1217.5L612.85,1241.7L613.10,1217.5L613.35,1217.5L613.60,1217.5L613.85,1217.5L614.10,1237.8L614.35,1241.9L614.60,1234.3L614.85,1241.9L615.10,1234.3L615.35,1242.0L615.60,1234.3L615.85,1241.7L616.10,1234.7L616.35,1241.8L616.60,1235.9L616.85,1234.3L617.10,1234.9L617.35,1241.9L617.60,1235.0L617.85,1241.9L618.10,1235.8L618.35,1234.3L618.60,1236.8L618.85,1242.0L619.10,1237.5L619.35,1242.1L619.60,1236.9L619.85,1236.8L620.10,1237.1L620.35,1241.3L620.60,1228.1L620.85,1241.4L621.10,1228.1L621.35,1241.4L621.60,1228.1L621.85,1241.5L622.10,1228.1L622.35,1241.5L622.60,1228.1L622.85,1241.5L623.10,1228.1L623.35,1241.6L623.60,1239.7L623.85,1237.7L624.10,1237.9L624.35,1241.6L624.60,1237.7L624.85,1241.2L625.10,1217.5L625.35,1241.3L625.60,1217.5L625.85,1241.3L626.10,1217.5L626.35,1241.3L626.60,1217.5L626.85,1241.4L627.10,1217.5L627.35,1217.5L627.60,1217.5L627.85,1217.5L628.10,1239.6L628.35,1242.6L628.60,1237.4L628.85,1242.6L629.10,1238.2L629.35,1242.6L629.60,1238.0L629.85,1242.7L630.10,1237.7L630.35,1242.7L630.60,1238.1L630.85,1242.7L631.10,1237.4L631.35,1242.8L631.60,1238.2L631.85,1242.8L632.10,1237.4L632.35,1239.2L632.60,1239.2L632.85,1242.3L633.10,1217.5L633.35,1242.3L633.60,1217.5L633.85,1242.3L634.10,1217.5L634.35,1242.4L634.60,1217.5L634.85,1242.4L635.10,1217.5L635.35,1242.4L635.60,1217.5L635.85,1239.2L636.10,1240.0L636.35,1242.5L636.60,1240.1L636.85,1242.5L637.10,1239.9L637.35,1242.5L637.60,1241.6L637.85,1242.5L638.10,1241.4L638.35,1215.0L638.60,1215.0L638.85,1242.6L639.10,1215.0L639.35,1242.6L639.60,1215.0L639.85,1243.5L640.10,1215.0L640.35,1243.5L640.60,1215.0L640.85,1243.6L641.10,1215.0L641.35,1243.7L641.60,1241.8L641.85,1242.9L642.10,1241.9L642.35,1242.9L642.60,1242.1L642.85,1243.0L643.10,1242.2L643.35,1243.1L643.60,1242.1L643.85,1243.2L644.10,1242.4L644.35,1243.3L644.60,1242.4L644.85,1243.3L645.10,1242.4L645.35,1244.0L645.60,1242.8L645.85,1244.1L646.10,1242.6L646.35,1244.2L646.60,1242.9L646.85,1244.3L647.10,1242.6L647.35,1244.3L647.60,1242.9L647.85,1244.4L648.10,1243.0L648.35,1244.5L648.60,1243.3L648.85,1244.8L649.10,1243.3L649.35,1244.9L649.60,1243.2L649.85,1244.9L650.10,1243.1L650.35,1245.0L650.60,1236.8L650.85,1245.1L651.10,1237.7L651.35,1245.2L651.60,1237.5L651.85,1244.4L652.10,1238.7L652.35,1244.5L652.60,1238.1L652.85,1244.5L653.10,1237.6L653.35,1244.6L653.60,1236.8L653.85,1244.6L654.10,1242.0L654.35,1244.7L654.60,1242.3L654.85,1241.7L655.10,1243.7L655.35,1244.8L655.60,1243.9L655.85,1244.8L656.10,1244.0L656.35,1242.7L656.60,1243.0L656.85,1245.7L657.10,1243.2L657.35,1245.7L657.60,1243.0L657.85,1242.7L658.10,1241.6L658.35,1245.8L658.60,1241.7L658.85,1244.7L659.10,1242.0L659.35,1244.7L659.60,1241.7L659.85,1244.8L660.10,1241.7L660.35,1244.8L660.60,1242.0L660.85,1244.9L661.10,1242.3L661.35,1244.9L661.60,1241.6L661.85,1245.0L662.10,1218.7L662.35,1245.0L662.60,1218.7L662.85,1245.1L663.10,1218.7L663.35,1246.4L663.60,1218.7L663.85,1246.5L664.10,1218.7L664.35,1246.5L664.60,1218.7L664.85,1246.6L665.10,1218.7L665.35,1218.7L665.60,1243.3L665.85,1246.7L666.10,1238.8L666.35,1246.7L666.60,1239.8L666.85,1223.7L667.10,1223.7L667.35,1245.5L667.60,1223.7L667.85,1245.5L668.10,1223.7L668.35,1245.6L668.60,1223.7L668.85,1245.6L669.10,1223.7L669.35,1223.7L669.60,1240.5L669.85,1238.8L670.10,1243.1L670.35,1245.8L670.60,1243.6L670.85,1245.9L671.10,1243.7L671.35,1245.9L671.60,1243.1L671.85,1245.9L672.10,1243.8L672.35,1247.6L672.60,1243.7L672.85,1243.1L673.10,1243.7L673.35,1247.6L673.60,1243.7L673.85,1247.6L674.10,1243.1L674.35,1246.1L674.60,1245.5L674.85,1246.1L675.10,1245.5L675.35,1246.1L675.60,1245.5L675.85,1246.1L676.10,1245.5L676.35,1246.2L676.60,1245.6L676.85,1246.7L677.10,1244.7L677.35,1246.7L677.60,1245.1L677.85,1246.7L678.10,1244.9L678.35,1244.7L678.60,1245.6L678.85,1246.8L679.10,1245.8L679.35,1246.8L679.60,1245.6L679.85,1246.8L680.10,1245.8L680.35,1246.3L680.60,1245.7L680.85,1246.3L681.10,1245.7L681.35,1246.3L681.60,1245.7L681.85,1246.4L682.10,1245.8L682.35,1243.1L682.60,1243.2L682.85,1246.4L683.10,1243.2L683.35,1198.1L683.60,1198.1L683.85,1246.4L684.10,1198.1L684.35,1198.1L684.60,1198.1L684.85,1246.5L685.10,1198.1L685.35,1246.5L685.60,1198.1L685.85,1246.5L686.10,1198.1L686.35,1246.6L686.60,1245.0L686.85,1234.7L687.10,1234.7L687.35,1234.7L687.60,1235.6L687.85,1246.6L688.10,1230.0L688.35,1246.6L688.60,1230.0L688.85,1246.4L689.10,1230.0L689.35,1246.4L689.60,1230.0L689.85,1246.4L690.10,1230.0L690.35,1230.0L690.60,1230.0L690.85,1246.4L691.10,1242.6L691.35,1242.1L691.60,1242.7L691.85,1246.5L692.10,1242.2L692.35,1246.5L692.60,1243.2L692.85,1246.5L693.10,1242.9L693.35,1246.5L693.60,1242.1L693.85,1246.5L694.10,1242.1L694.35,1246.5L694.60,1242.4L694.85,1242.3L695.10,1244.4L695.35,1246.6L695.60,1244.8L695.85,1246.6L696.10,1244.7L696.35,1247.2L696.60,1244.9L696.85,1247.2L697.10,1244.9L697.35,1247.2L697.60,1245.1L697.85,1247.2L698.10,1244.5L698.35,1247.3L698.60,1244.4L698.85,1243.6L699.10,1243.6L699.35,1247.6L699.60,1244.6L699.85,1247.6L700.10,1244.1L700.35,1247.6L700.60,1243.6L700.85,1243.7L701.10,1246.8L701.35,1247.7L701.60,1246.8L701.85,1247.7L702.10,1246.9L702.35,1247.7L702.60,1247.0L702.85,1247.8L703.10,1247.1L703.35,1248.9L703.60,1247.0L703.85,1248.9L704.10,1247.3L704.35,1245.6L704.60,1246.1L704.85,1249.0L705.10,1246.3L705.35,1248.9L705.60,1245.6L705.85,1249.0L706.10,1246.5L706.35,1249.0L706.60,1247.0L706.85,1249.1L707.10,1247.0L707.35,1249.1L707.60,1246.5L707.85,1249.2L708.10,1246.8L708.35,1249.2L708.60,1246.5L708.85,1249.3L709.10,1246.5L709.35,1249.3L709.60,1234.6L709.85,1248.4L710.10,1234.6L710.35,1248.4L710.60,1234.6L710.85,1248.5L711.10,1234.6L711.35,1248.5L711.60,1234.6L711.85,1248.6L712.10,1234.6L712.35,1248.1L712.60,1234.6L712.85,1234.6L713.10,1247.9L713.35,1248.2L713.60,1244.6L713.85,1248.3L714.10,1244.7L714.35,1248.3L714.60,1245.6L714.85,1249.1L715.10,1244.8L715.35,1249.2L715.60,1245.3L715.85,1249.2L716.10,1245.3L716.35,1249.3L716.60,1244.9L716.85,1241.2L717.10,1241.6L717.35,1241.2L717.60,1241.2L717.85,1248.8L718.10,1242.9L718.35,1248.9L718.60,1241.3L718.85,1249.5L719.10,1241.7L719.35,1241.2L719.60,1241.9L719.85,1249.6L720.10,1242.4L720.35,1249.7L720.60,1241.2L720.85,1249.7L721.10,1247.2L721.35,1249.8L721.60,1247.0L721.85,1249.8L722.10,1246.4L722.35,1249.9L722.60,1246.5L722.85,1250.0L723.10,1246.9L723.35,1250.4L723.60,1247.1L723.85,1250.4L724.10,1247.1L724.35,1246.4L724.60,1249.3L724.85,1250.5L725.10,1249.3L725.35,1250.6L725.60,1249.3L725.85,1250.4L726.10,1248.0L726.35,1250.4L726.60,1248.3L726.85,1250.5L727.10,1248.4L727.35,1250.5L727.60,1248.3L727.85,1248.0L728.10,1249.8L728.35,1250.6L728.60,1249.7L728.85,1250.7L729.10,1249.9L729.35,1250.7L729.60,1249.9L729.85,1248.6L730.10,1249.1L730.35,1250.8L730.60,1249.1L730.85,1250.9L731.10,1191.2L731.35,1251.0L731.60,1191.2L731.85,1191.2L732.10,1191.2L732.35,1251.1L732.60,1191.2L732.85,1251.2L733.10,1191.2L733.35,1251.2L733.60,1191.2L733.85,1251.3L734.10,1191.2L734.35,1251.3L734.60,1191.2L734.85,1191.2L735.10,1191.2L735.35,1251.9L735.60,1235.5L735.85,1235.5L736.10,1226.2L736.35,1252.0L736.60,1226.2L736.85,1252.1L737.10,1226.2L737.35,1252.2L737.60,1226.2L737.85,1252.2L738.10,1226.2L738.35,1251.0L738.60,1226.2L738.85,1226.2L739.10,1235.5L739.35,1251.1L739.60,1235.5L739.85,1235.5L740.10,1248.5L740.35,1243.9L740.60,1245.6L740.85,1251.2L741.10,1243.9L741.35,1243.9L741.60,1244.6L741.85,1243.9L742.10,1245.2L742.35,1251.2L742.60,1245.6L742.85,1251.1L743.10,1245.0L743.35,1251.2L743.60,1245.0L743.85,1243.9L744.10,1244.0L744.35,1243.7L744.60,1243.7L744.85,1252.8L745.10,1245.1L745.35,1252.9L745.60,1244.3L745.85,1252.9L746.10,1244.6L746.35,1252.9L746.60,1243.7L746.85,1243.7L747.10,1249.7L747.35,1249.7L747.60,1250.0L747.85,1253.0L748.10,1250.5L748.35,1249.7L748.60,1250.3L748.85,1253.0L749.10,1250.3L749.35,1253.1L749.60,1249.9L749.85,1253.1L750.10,1249.7L750.35,1253.2L750.60,1251.4L750.85,1253.2L751.10,1251.7L751.35,1253.2L751.60,1251.4L751.85,1253.2L752.10,1251.6L752.35,1252.4L752.60,1251.5L752.85,1252.4L753.10,1251.5L753.35,1252.4L753.60,1251.5L753.85,1252.4L754.10,1251.5L754.35,1252.5L754.60,1251.7L754.85,1253.3L755.10,1251.7L755.35,1253.3L755.60,1251.8L755.85,1253.3L756.10,1251.6L756.35,1253.3L756.60,1251.6L756.85,1253.4L757.10,1251.8L757.35,1245.0L757.60,1245.1L757.85,1252.3L758.10,1245.8L758.35,1252.3L758.60,1245.9L758.85,1252.3L759.10,1246.4L759.35,1252.3L759.60,1245.2L759.85,1245.0L760.10,1245.0L760.35,1251.9L760.60,1249.6L760.85,1251.9L761.10,1249.8L761.35,1252.0L761.60,1249.5L761.85,1252.0L762.10,1249.9L762.35,1252.0L762.60,1249.3L762.85,1252.0L763.10,1252.0L763.35,1250.4L763.60,1250.8L763.85,1252.9L764.10,1234.3L764.35,1234.3L764.60,1234.3L764.85,1252.9L765.10,1234.3L765.35,1252.9L765.60,1234.3L765.85,1253.0L766.10,1234.3L766.35,1253.5L766.60,1234.3L766.85,1253.6L767.10,1234.3L767.35,1253.6L767.60,1250.9L767.85,1247.5L768.10,1248.1L768.35,1247.5L768.60,1248.7L768.85,1253.7L769.10,1248.3L769.35,1253.7L769.60,1248.6L769.85,1253.7L770.10,1249.1L770.35,1253.7L770.60,1248.6L770.85,1253.8L771.10,1247.5L771.35,1253.8L771.60,1248.4L771.85,1247.5L772.10,1250.2L772.35,1253.8L772.60,1251.0L772.85,1253.9L773.10,1250.6L773.35,1250.2L773.60,1250.3L773.85,1253.9L774.10,1250.5L774.35,1250.2L774.60,1250.8L774.85,1254.1L775.10,1251.2L775.35,1254.1L775.60,1250.8L775.85,1250.2L776.10,1252.6L776.35,1254.2L776.60,1252.9L776.85,1254.2L777.10,1252.7L777.35,1254.2L777.60,1252.6L777.85,1254.2L778.10,1252.7L778.35,1254.2L778.60,1252.7L778.85,1254.0L779.10,1228.1L779.35,1254.0L779.60,1228.1L779.85,1254.0L780.10,1228.1L780.35,1254.0L780.60,1228.1L780.85,1254.0L781.10,1228.1L781.35,1254.0L781.60,1228.1L781.85,1254.0L782.10,1228.1L782.35,1254.0L782.60,1251.0L782.85,1246.4L783.10,1246.4L783.35,1253.0L783.60,1246.6L783.85,1253.0L784.10,1247.5L784.35,1253.0L784.60,1247.5L784.85,1253.0L785.10,1248.0L785.35,1253.0L785.60,1246.4L785.85,1253.0L786.10,1246.4L786.35,1253.0L786.60,1246.4L786.85,1246.4L787.10,1250.2L787.35,1253.0L787.60,1250.3L787.85,1253.1L788.10,1250.8L788.35,1253.1L788.60,1250.2L788.85,1253.1L789.10,1251.4L789.35,1253.1L789.60,1251.1L789.85,1253.9L790.10,1251.3L790.35,1253.9L790.60,1251.0L790.85,1251.0L791.10,1252.9L791.35,1253.9L791.60,1252.8L791.85,1249.8L792.10,1249.9L792.35,1254.0L792.60,1250.6L792.85,1254.0L793.10,1249.8L793.35,1254.0L793.60,1249.9L793.85,1254.0L794.10,1250.3L794.35,1254.0L794.60,1250.3L794.85,1254.7L795.10,1250.9L795.35,1249.8L795.60,1252.2L795.85,1221.8L796.10,1221.8L796.35,1254.7L796.60,1221.8L796.85,1254.7L797.10,1221.8L797.35,1253.9L797.60,1221.8L797.85,1253.9L798.10,1221.8L798.35,1253.9L798.60,1221.8L798.85,1221.8L799.10,1221.8L799.35,1253.9L799.60,1250.7L799.85,1247.4L800.10,1249.2L800.35,1254.8L800.60,1247.4L800.85,1254.8L801.10,1247.2L801.35,1254.8L801.60,1247.9L801.85,1247.2L802.10,1248.5L802.35,1254.5L802.60,1247.6L802.85,1254.5L803.10,1248.6L803.35,1254.5L803.60,1247.2L803.85,1247.2L804.10,1248.6L804.35,1254.6L804.60,1248.7L804.85,1247.2L805.10,1251.2L805.35,1254.6L805.60,1251.0L805.85,1254.6L806.10,1251.4L806.35,1254.6L806.60,1251.7L806.85,1254.6L807.10,1251.1L807.35,1254.6L807.60,1250.8L807.85,1250.8L808.10,1250.5L808.35,1254.3L808.60,1250.7L808.85,1254.3L809.10,1250.5L809.35,1254.3L809.60,1251.7L809.85,1254.4L810.10,1250.9L810.35,1250.7L810.60,1250.7L810.85,1250.7L811.10,1250.7L811.35,1254.4L811.60,1250.8L811.85,1250.7L812.10,1251.4L812.35,1250.7L812.60,1253.2L812.85,1254.0L813.10,1253.3L813.35,1254.0L813.60,1253.3L813.85,1254.1L814.10,1253.3L814.35,1254.1L814.60,1253.4L814.85,1254.1L815.10,1253.4L815.35,1254.2L815.60,1243.7L815.85,1254.2L816.10,1245.1L816.35,1254.2L816.60,1244.5L816.85,1254.8L817.10,1243.7L817.35,1254.8L817.60,1245.4L817.85,1254.8L818.10,1244.4L818.35,1254.9L818.60,1244.5L818.85,1254.9L819.10,1243.7L819.35,1254.9L819.60,1246.2L819.85,1254.3L820.10,1244.7L820.35,1254.3L820.60,1243.7L820.85,1254.4L821.10,1244.0L821.35,1254.4L821.60,1245.4L821.85,1243.7L822.10,1245.1L822.35,1254.5L822.60,1243.9L822.85,1254.5L823.10,1243.7L823.35,1251.7L823.60,1252.0L823.85,1254.6L824.10,1252.2L824.35,1254.3L824.60,1251.7L824.85,1254.4L825.10,1251.9L825.35,1254.4L825.60,1252.4L825.85,1254.4L826.10,1252.3L826.35,1251.7L826.60,1252.1L826.85,1254.5L827.10,1252.4L827.35,1254.5L827.60,1251.7L827.85,1254.6L828.10,1251.9L828.35,1255.7L828.60,1252.6L828.85,1255.7L829.10,1252.2L829.35,1255.8L829.60,1251.9L829.85,1255.8L830.10,1252.3L830.35,1251.7L830.60,1254.6L830.85,1252.5L831.10,1253.0L831.35,1255.9L831.60,1252.5L831.85,1255.8L832.10,1252.5L832.35,1255.9L832.60,1252.8L832.85,1255.9L833.10,1252.5L833.35,1255.9L833.60,1252.5L833.85,1256.4L834.10,1252.6L834.35,1256.5L834.60,1215.6L834.85,1256.5L835.10,1215.6L835.35,1215.6L835.60,1215.6L835.85,1255.5L836.10,1215.6L836.35,1255.5L836.60,1215.6L836.85,1255.6L837.10,1215.6L837.35,1255.6L837.60,1215.6L837.85,1215.6L838.10,1254.9L838.35,1252.1L838.60,1243.8L838.85,1255.7L839.10,1243.8L839.35,1256.0L839.60,1243.8L839.85,1256.0L840.10,1243.8L840.35,1256.0L840.60,1243.8L840.85,1256.1L841.10,1243.8L841.35,1256.1L841.60,1243.8L841.85,1243.8L842.10,1243.8L842.35,1243.8L842.60,1252.4L842.85,1252.4L843.10,1252.8L843.35,1255.4L843.60,1252.5L843.85,1255.4L844.10,1253.1L844.35,1255.4L844.60,1252.7L844.85,1255.5L845.10,1252.4L845.35,1255.5L845.60,1252.4L845.85,1252.4L846.10,1253.1L846.35,1255.6L846.60,1252.4L846.85,1255.6L847.10,1253.3L847.35,1256.6L847.60,1253.3L847.85,1256.6L848.10,1252.7L848.35,1256.6L848.60,1253.1L848.85,1252.7L849.10,1255.7L849.35,1256.7L849.60,1232.5L849.85,1256.7L850.10,1232.5L850.35,1256.7L850.60,1232.5L850.85,1255.8L851.10,1232.5L851.35,1255.8L851.60,1232.5L851.85,1255.8L852.10,1232.5L852.35,1255.9L852.60,1253.3L852.85,1251.4L853.10,1251.4L853.35,1255.9L853.60,1251.7L853.85,1255.9L854.10,1248.2L854.35,1255.9L854.60,1249.9L854.85,1248.2L855.10,1248.6L855.35,1248.2L855.60,1249.1L855.85,1257.2L856.10,1249.9L856.35,1248.2L856.60,1248.2L856.85,1257.2L857.10,1248.9L857.35,1257.2L857.60,1249.0L857.85,1248.2L858.10,1253.0L858.35,1257.3L858.60,1253.7L858.85,1256.2L859.10,1253.1L859.35,1256.3L859.60,1253.2L859.85,1256.3L860.10,1253.0L860.35,1256.3L860.60,1256.3L860.85,1256.3L861.10,1256.3L861.35,1256.4L861.60,1256.4L861.85,1256.4L862.10,1256.3L862.35,1256.7L862.60,1256.3L862.85,1256.7L863.10,1256.3L863.35,1256.7L863.60,1256.4L863.85,1256.8L864.10,1256.3L864.35,1256.8L864.60,1256.4L864.85,1256.8L865.10,1256.4L865.35,1256.8L865.60,1256.5L865.85,1258.1L866.10,1256.5L866.35,1258.2L866.60,1256.5L866.85,1258.2L867.10,1256.8L867.35,1253.9L867.60,1254.8L867.85,1258.2L868.10,1254.2L868.35,1257.4L868.60,1254.1L868.85,1257.5L869.10,1254.1L869.35,1257.5L869.60,1253.9L869.85,1257.5L870.10,1256.6L870.35,1257.5L870.60,1251.8L870.85,1258.0L871.10,1252.5L871.35,1251.8L871.60,1252.6L871.85,1258.1L872.10,1252.8L872.35,1258.1L872.60,1251.9L872.85,1258.1L873.10,1251.8L873.35,1258.2L873.60,1254.2L873.85,1254.0L874.10,1256.8L874.35,1258.2L874.60,1254.2L874.85,1254.2L875.10,1254.5L875.35,1258.5L875.60,1254.4L875.85,1258.5L876.10,1255.2L876.35,1254.2L876.60,1254.7L876.85,1258.5L877.10,1254.3L877.35,1255.4L877.60,1255.5L877.85,1247.5L878.10,1249.3L878.35,1258.6L878.60,1250.1L878.85,1247.5L879.10,1247.5L879.35,1258.3L879.60,1247.5L879.85,1255.0L880.10,1255.7L880.35,1258.3L880.60,1255.5L880.85,1258.4L881.10,1255.3L881.35,1255.0L881.60,1257.3L881.85,1258.5L882.10,1243.1L882.35,1258.6L882.60,1243.1L882.85,1258.6L883.10,1243.1L883.35,1243.1L883.60,1243.1L883.85,1258.6L884.10,1243.1L884.35,1258.7L884.60,1243.1L884.85,1254.7L885.10,1255.0L885.35,1254.6L885.60,1255.4L885.85,1258.7L886.10,1254.6L886.35,1258.2L886.60,1255.3L886.85,1258.3L887.10,1255.0L887.35,1258.3L887.60,1255.4L887.85,1258.3L888.10,1255.2L888.35,1258.3L888.60,1255.2L888.85,1254.6L889.10,1256.3L889.35,1258.4L889.60,1256.4L889.85,1258.3L890.10,1256.4L890.35,1258.4L890.60,1256.4L890.85,1258.4L891.10,1256.8L891.35,1258.4L891.60,1256.7L891.85,1258.4L892.10,1256.8L892.35,1258.4L892.60,1256.3L892.85,1258.4L893.10,1257.8L893.35,1258.4L893.60,1257.8L893.85,1258.5L894.10,1257.8L894.35,1258.5L894.60,1257.8L894.85,1258.5L895.10,1249.3L895.35,1258.5L895.60,1249.7L895.85,1258.5L896.10,1249.3L896.35,1258.5L896.60,1250.8L896.85,1258.6L897.10,1249.3L897.35,1259.3L897.60,1255.1L897.85,1259.3L898.10,1254.9L898.35,1259.3L898.60,1256.0L898.85,1254.9L899.10,1255.9L899.35,1259.4L899.60,1255.1L899.85,1259.4L900.10,1255.8L900.35,1259.4L900.60,1254.9L900.85,1258.6L901.10,1258.0L901.35,1258.6L901.60,1257.9L901.85,1258.6L902.10,1258.0L902.35,1258.7L902.60,1258.0L902.85,1258.7L903.10,1258.1L903.35,1258.7L903.60,1258.1L903.85,1258.7L904.10,1258.1L904.35,1256.6L904.60,1256.7L904.85,1258.8L905.10,1256.9L905.35,1258.8L905.60,1247.5L905.85,1258.9L906.10,1249.1L906.35,1258.9L906.60,1247.5L906.85,1258.9L907.10,1247.8L907.35,1247.5L907.60,1247.5L907.85,1258.9L908.10,1258.2L908.35,1256.3L908.60,1256.4L908.85,1259.7L909.10,1256.5L909.35,1256.1L909.60,1256.7L909.85,1259.8L910.10,1257.0L910.35,1259.8L910.60,1256.5L910.85,1259.8L911.10,1256.7L911.35,1256.1L911.60,1257.4L911.85,1259.8L912.10,1257.9L912.35,1259.8L912.60,1257.8L912.85,1259.7L913.10,1257.8L913.35,1259.7L913.60,1257.4L913.85,1259.8L914.10,1257.9L914.35,1254.3L914.60,1254.3L914.85,1259.8L915.10,1254.5L915.35,1259.8L915.60,1254.5L915.85,1259.8L916.10,1254.9L916.35,1259.2L916.60,1255.0L916.85,1259.2L917.10,1255.2L917.35,1259.3L917.60,1254.7L917.85,1254.3L918.10,1254.3L918.35,1259.7L918.60,1255.6L918.85,1259.7L919.10,1255.1L919.35,1259.7L919.60,1255.4L919.85,1259.7L920.10,1254.9L920.35,1259.7L920.60,1254.3L920.85,1256.0L921.10,1256.1L921.35,1259.8L921.60,1256.1L921.85,1259.8L922.10,1256.6L922.35,1256.0L922.60,1258.8L922.85,1260.0L923.10,1258.8L923.35,1260.0L923.60,1258.8L923.85,1260.0L924.10,1258.7L924.35,1257.5L924.60,1257.8L924.85,1260.0L925.10,1257.7L925.35,1255.4L925.60,1256.4L925.85,1260.1L926.10,1255.6L926.35,1259.9L926.60,1256.5L926.85,1259.9L927.10,1255.4L927.35,1260.0L927.60,1256.4L927.85,1260.0L928.10,1255.8L928.35,1255.4L928.60,1259.1L928.85,1260.0L929.10,1235.0L929.35,1260.0L929.60,1235.0L929.85,1260.1L930.10,1235.0L930.35,1259.3L930.60,1235.0L930.85,1259.3L931.10,1235.0L931.35,1259.4L931.60,1235.0L931.85,1256.8L932.10,1257.2L932.35,1255.2L932.60,1255.6L932.85,1259.4L933.10,1256.0L933.35,1259.6L933.60,1256.1L933.85,1259.7L934.10,1255.2L934.35,1255.2L934.60,1255.4L934.85,1255.2L935.10,1256.2L935.35,1259.7L935.60,1255.2L935.85,1255.2L936.10,1256.1L936.35,1261.1L936.60,1256.2L936.85,1256.1L937.10,1256.8L937.35,1261.1L937.60,1256.5L937.85,1254.2L938.10,1254.9L938.35,1261.2L938.60,1255.0L938.85,1254.2L939.10,1255.0L939.35,1260.2L939.60,1254.2L939.85,1260.2L940.10,1256.4L940.35,1260.2L940.60,1259.5L940.85,1260.2L941.10,1259.5L941.35,1260.2L941.60,1259.4L941.85,1260.3L942.10,1259.4L942.35,1260.5L942.60,1259.6L942.85,1260.6L943.10,1259.4L943.35,1260.6L943.60,1259.5L943.85,1260.6L944.10,1259.6L944.35,1260.6L944.60,1259.4L944.85,1260.6L945.10,1259.7L945.35,1261.2L945.60,1259.8L945.85,1261.3L946.10,1259.7L946.35,1261.3L946.60,1259.6L946.85,1251.8L947.10,1253.1L947.35,1261.3L947.60,1251.8L947.85,1261.3L948.10,1251.8L948.35,1251.8L948.60,1251.8L948.85,1257.0L949.10,1257.3L949.35,1261.4L949.60,1257.9L949.85,1261.4L950.10,1257.4L950.35,1257.0L950.60,1257.2L950.85,1260.3L951.10,1257.0L951.35,1260.3L951.60,1258.1L951.85,1260.3L952.10,1257.9L952.35,1260.3L952.60,1257.5L952.85,1260.3L953.10,1259.8L953.35,1247.5L953.60,1247.5L953.85,1260.8L954.10,1247.5L954.35,1260.8L954.60,1247.5L954.85,1260.8L955.10,1247.5L955.35,1247.5L955.60,1247.5L955.85,1260.9L956.10,1247.5L956.35,1260.9L956.60,1247.5L956.85,1260.9L957.10,1258.9L957.35,1260.9L957.60,1258.9L957.85,1260.1L958.10,1258.7L958.35,1260.2L958.60,1259.5L958.85,1259.0L959.10,1259.1L959.35,1260.2L959.60,1250.7L959.85,1260.2L960.10,1251.8L960.35,1260.2L960.60,1253.0L960.85,1260.3L961.10,1251.7L961.35,1260.3L961.60,1250.7L961.85,1260.8L962.10,1257.3L962.35,1257.3L962.60,1258.0L962.85,1260.8L963.10,1257.4L963.35,1260.8L963.60,1257.7L963.85,1260.8L964.10,1257.5L964.35,1260.9L964.60,1258.1L964.85,1257.3L965.10,1258.9L965.35,1260.9L965.60,1258.6L965.85,1259.6L966.10,1259.7L966.35,1260.7L966.60,1259.6L966.85,1260.7L967.10,1259.7L967.35,1260.7L967.60,1259.6L967.85,1260.8L968.10,1259.7L968.35,1260.8L968.60,1256.2L968.85,1256.2L969.10,1257.0L969.35,1262.0L969.60,1256.7L969.85,1262.1L970.10,1256.4L970.35,1262.1L970.60,1256.2L970.85,1262.1L971.10,1256.7L971.35,1262.1L971.60,1256.4L971.85,1262.1L972.10,1256.2L972.35,1256.2L972.60,1259.1L972.85,1261.5L973.10,1258.5L973.35,1261.5L973.60,1258.5L973.85,1261.5L974.10,1260.7L974.35,1261.5L974.60,1259.0L974.85,1261.6L975.10,1259.2L975.35,1261.6L975.60,1259.5L975.85,1261.6L976.10,1259.5L976.35,1259.0L976.60,1260.7L976.85,1261.6L977.10,1260.9L977.35,1261.6L977.60,1260.9L977.85,1261.6L978.10,1259.4L978.35,1261.7L978.60,1259.7L978.85,1261.7L979.10,1259.8L979.35,1261.7L979.60,1259.6L979.85,1261.7L980.10,1259.4L980.35,1259.4L980.60,1260.1L980.85,1261.8L981.10,1260.4L981.35,1260.0L981.60,1261.1L981.85,1262.0L982.10,1261.0L982.35,1262.0L982.60,1261.0L982.85,1262.0L983.10,1261.1L983.35,1262.0L983.60,1261.2L983.85,1262.1L984.10,1261.1L984.35,1261.6L984.60,1261.2L984.85,1261.7L985.10,1261.2L985.35,1261.7L985.60,1261.2L985.85,1261.7L986.10,1261.2L986.35,1261.7L986.60,1261.4L986.85,1262.6L987.10,1261.5L987.35,1262.6L987.60,1261.2L987.85,1262.6L988.10,1261.4L988.35,1262.7L988.60,1261.3L988.85,1262.7L989.10,1259.8L989.35,1236.8L989.60,1236.8L989.85,1262.7L990.10,1236.8L990.35,1262.7L990.60,1236.8L990.85,1262.7L991.10,1236.8L991.35,1236.8L991.60,1236.8L991.85,1236.8L992.10,1261.6L992.35,1262.7L992.60,1254.7L992.85,1262.2L993.10,1255.2L993.35,1262.2L993.60,1256.1L993.85,1262.2L994.10,1255.4L994.35,1254.7L994.60,1256.0L994.85,1262.3L995.10,1256.0L995.35,1262.3L995.60,1254.7L995.85,1254.7L996.10,1254.7L996.35,1258.8L996.60,1258.8L996.85,1262.8L997.10,1260.1L997.35,1262.8L997.60,1260.1L997.85,1262.9L998.10,1259.7L998.35,1262.9L998.60,1259.9L998.85,1262.8L999.10,1259.4L999.35,1262.8L999.60,1259.3L999.85,1259.3L1000.10,1261.1L1000.35,1262.9L1000.60,1261.4L1000.85,1261.0L1001.10,1262.0L1001.35,1262.8L1001.60,1262.0L1001.85,1262.8L1002.10,1262.0L1002.35,1262.9L1002.60,1261.0L1002.85,1262.9L1003.10,1261.3L1003.35,1262.9L1003.60,1261.3L1003.85,1262.9L1004.10,1261.3L1004.35,1262.7L1004.60,1261.1L1004.85,1262.7L1005.10,1261.0L1005.35,1256.2L1005.60,1257.6L1005.85,1262.8L1006.10,1256.8L1006.35,1262.8L1006.60,1257.7L1006.85,1262.8L1007.10,1257.6L1007.35,1263.0L1007.60,1257.6L1007.85,1263.1L1008.10,1257.6L1008.35,1263.1L1008.60,1256.2L1008.85,1263.1L1009.10,1262.4L1009.35,1261.4L1009.60,1261.8L1009.85,1263.1L1010.10,1261.0L1010.35,1263.2L1010.60,1260.6L1010.85,1260.6L1011.10,1260.9L1011.35,1263.7L1011.60,1260.6L1011.85,1260.6L1012.10,1261.0L1012.35,1260.7L1012.60,1262.6L1012.85,1263.7L1013.10,1261.6L1013.35,1258.1L1013.60,1259.2L1013.85,1262.8L1014.10,1258.8L1014.35,1262.8L1014.60,1258.1L1014.85,1262.9L1015.10,1258.1L1015.35,1258.1L1015.60,1262.5L1015.85,1262.6L1016.10,1262.6L1016.35,1262.6L1016.60,1262.6L1016.85,1262.6L1017.10,1262.6L1017.35,1262.6L1017.60,1262.6L1017.85,1262.6L1018.10,1262.6L1018.35,1262.7L1018.60,1262.2L1018.85,1263.7L1019.10,1262.5L1019.35,1263.7L1019.60,1262.5L1019.85,1263.7L1020.10,1262.3L1020.35,1263.7L1020.60,1262.4L1020.85,1263.8L1021.10,1262.4L1021.35,1262.2L1021.60,1262.7L1021.85,1263.0L1022.10,1251.8L1022.35,1263.0L1022.60,1251.8L1022.85,1263.0L1023.10,1253.3L1023.35,1263.0L1023.60,1253.2L1023.85,1263.0L1024.10,1251.8L1024.35,1263.1L1024.60,1262.9L1024.85,1260.7L1025.10,1260.8L1025.35,1263.1L1025.60,1261.2L1025.85,1263.3L1026.10,1260.7L1026.35,1263.3L1026.60,1261.3L1026.85,1263.3L1027.10,1261.5L1027.35,1263.3L1027.60,1261.6L1027.85,1261.2L1028.10,1261.8L1028.35,1263.6L1028.60,1261.9L1028.85,1263.6L1029.10,1261.8L1029.35,1263.6L1029.60,1262.3L1029.85,1263.6L1030.10,1262.3L1030.35,1261.8L1030.60,1262.3L1030.85,1263.7L1031.10,1261.8L1031.35,1261.8L1031.60,1263.1L1031.85,1263.7L1032.10,1263.1L1032.35,1264.0L1032.60,1263.3L1032.85,1264.0L1033.10,1263.1L1033.35,1264.0L1033.60,1261.7L1033.85,1264.0L1034.10,1261.8L1034.35,1264.0L1034.60,1262.2L1034.85,1264.0L1035.10,1261.9L1035.35,1264.0L1035.60,1261.7L1035.85,1264.1L1036.10,1261.7L1036.35,1264.1L1036.60,1261.7L1036.85,1261.7L1037.10,1241.2L1037.35,1264.3L1037.60,1241.2L1037.85,1264.3L1038.10,1241.2L1038.35,1264.3L1038.60,1241.2L1038.85,1264.3L1039.10,1241.2L1039.35,1264.3L1039.60,1241.2L1039.85,1241.2L1040.10,1262.2L1040.35,1262.2L1040.60,1263.5L1040.85,1263.8L1041.10,1253.7L1041.35,1253.7L1041.60,1255.1L1041.85,1263.8L1042.10,1253.7L1042.35,1263.8L1042.60,1255.6L1042.85,1263.8L1043.10,1253.7L1043.35,1263.8L1043.60,1262.5L1043.85,1261.2L1044.10,1261.2L1044.35,1263.9L1044.60,1261.8L1044.85,1263.9L1045.10,1261.2L1045.35,1264.0L1045.60,1261.8L1045.85,1264.0L1046.10,1261.8L1046.35,1264.1L1046.60,1261.7L1046.85,1261.2L1047.10,1261.7L1047.35,1264.1L1047.60,1261.9L1047.85,1263.7L1048.10,1261.8L1048.35,1263.7L1048.60,1262.1L1048.85,1263.7L1049.10,1261.7L1049.35,1263.7L1049.60,1262.7L1049.85,1263.7L1050.10,1262.6L1050.35,1263.7L1050.60,1263.8L1050.85,1256.2L1051.10,1257.2L1051.35,1264.5L1051.60,1257.6L1051.85,1264.5L1052.10,1257.6L1052.35,1264.5L1052.60,1257.6L1052.85,1264.5L1053.10,1257.5L1053.35,1264.6L1053.60,1257.3L1053.85,1264.6L1054.10,1256.2L1054.35,1263.9L1054.60,1263.9L1054.85,1263.9L1055.10,1262.2L1055.35,1263.9L1055.60,1262.5L1055.85,1263.9L1056.10,1262.1L1056.35,1263.9L1056.60,1262.3L1056.85,1262.1L1057.10,1262.2L1057.35,1264.2L1057.60,1261.8L1057.85,1264.2L1058.10,1262.3L1058.35,1264.2L1058.60,1261.8L1058.85,1264.2L1059.10,1261.8L1059.35,1263.8L1059.60,1262.9L1059.85,1263.9L1060.10,1262.9L1060.35,1263.9L1060.60,1262.7L1060.85,1263.9L1061.10,1262.7L1061.35,1263.9L1061.60,1263.0L1061.85,1263.9L1062.10,1262.7L1062.35,1263.9L1062.60,1263.9L1062.85,1264.0L1063.10,1264.0L1063.35,1264.0L1063.60,1264.0L1063.85,1245.6L1064.10,1245.6L1064.35,1264.2L1064.60,1245.6L1064.85,1264.2L1065.10,1245.6L1065.35,1264.2L1065.60,1245.6L1065.85,1264.2L1066.10,1245.6L1066.35,1264.0L1066.60,1245.6L1066.85,1264.1L1067.10,1264.1L1067.35,1259.5L1067.60,1260.6L1067.85,1264.1L1068.10,1259.8L1068.35,1264.1L1068.60,1260.2L1068.85,1264.1L1069.10,1259.5L1069.35,1264.1L1069.60,1260.0L1069.85,1264.4L1070.10,1260.4L1070.35,1264.4L1070.60,1259.9L1070.85,1259.5L1071.10,1262.6L1071.35,1264.4L1071.60,1262.9L1071.85,1264.4L1072.10,1263.0L1072.35,1264.4L1072.60,1262.6L1072.85,1265.4L1073.10,1263.0L1073.35,1265.4L1073.60,1262.8L1073.85,1265.4L1074.10,1260.6L1074.35,1265.4L1074.60,1260.6L1074.85,1265.4L1075.10,1260.8L1075.35,1265.4L1075.60,1261.0L1075.85,1260.6L1076.10,1264.4L1076.35,1265.2L1076.60,1264.5L1076.85,1265.2L1077.10,1262.7L1077.35,1265.2L1077.60,1263.2L1077.85,1265.2L1078.10,1262.7L1078.35,1265.0L1078.60,1262.7L1078.85,1265.0L1079.10,1263.3L1079.35,1262.7L1079.60,1264.5L1079.85,1265.0L1080.10,1264.5L1080.35,1265.0L1080.60,1264.5L1080.85,1265.0L1081.10,1264.5L1081.35,1264.7L1081.60,1264.5L1081.85,1264.7L1082.10,1264.5L1082.35,1264.7L1082.60,1264.5L1082.85,1264.7L1083.10,1264.6L1083.35,1262.6L1083.60,1262.8L1083.85,1264.8L1084.10,1262.7L1084.35,1264.8L1084.60,1263.0L1084.85,1264.8L1085.10,1263.1L1085.35,1262.6L1085.60,1264.7L1085.85,1265.9L1086.10,1264.7L1086.35,1265.9L1086.60,1264.7L1086.85,1265.9L1087.10,1258.1L1087.35,1265.9L1087.60,1259.3L1087.85,1258.1L1088.10,1259.6L1088.35,1266.0L1088.60,1258.3L1088.85,1266.0L1089.10,1259.2L1089.35,1266.0L1089.60,1259.2L1089.85,1266.0L1090.10,1258.1L1090.35,1258.1L1090.60,1263.4L1090.85,1263.1L1091.10,1263.3L1091.35,1264.8L1091.60,1263.2L1091.85,1263.1L1092.10,1263.4L1092.35,1264.9L1092.60,1263.3L1092.85,1264.9L1093.10,1264.9L1093.35,1264.9L1093.60,1264.9L1093.85,1264.9L1094.10,1265.1L1094.35,1265.7L1094.60,1264.9L1094.85,1265.7L1095.10,1265.0L1095.35,1265.7L1095.60,1265.1L1095.85,1265.8L1096.10,1265.0L1096.35,1265.8L1096.60,1265.0L1096.85,1265.8L1097.10,1265.1L1097.35,1265.8L1097.60,1265.0L1097.85,1256.2L1098.10,1257.1L1098.35,1265.3L1098.60,1258.3L1098.85,1265.3L1099.10,1258.4L1099.35,1265.3L1099.60,1258.3L1099.85,1265.3L1100.10,1257.1L1100.35,1265.3L1100.60,1257.9L1100.85,1265.4L1101.10,1256.2L1101.35,1265.4L1101.60,1265.2L1101.85,1265.4L1102.10,1265.2L1102.35,1266.4L1102.60,1265.4L1102.85,1266.4L1103.10,1265.2L1103.35,1266.4L1103.60,1265.4L1103.85,1266.4L1104.10,1265.3L1104.35,1266.4L1104.60,1263.7L1104.85,1266.4L1105.10,1263.4L1105.35,1266.5L1105.60,1263.6L1105.85,1266.5L1106.10,1263.5L1106.35,1266.5L1106.60,1264.1L1106.85,1263.4L1107.10,1263.5L1107.35,1265.7L1107.60,1263.9L1107.85,1263.4L1108.10,1265.3L1108.35,1265.7L1108.60,1265.4L1108.85,1265.7L1109.10,1265.4L1109.35,1263.3L1109.60,1263.2L1109.85,1266.5L1110.10,1264.0L1110.35,1266.5L1110.60,1263.2L1110.85,1266.6L1111.10,1255.6L1111.35,1255.6L1111.60,1255.9L1111.85,1266.8L1112.10,1255.6L1112.35,1266.8L1112.60,1258.0L1112.85,1255.6L1113.10,1256.4L1113.35,1266.9L1113.60,1258.3L1113.85,1266.9L1114.10,1257.7L1114.35,1266.9L1114.60,1256.3L1114.85,1266.9L1115.10,1257.0L1115.35,1266.9L1115.60,1256.0L1115.85,1255.6L1116.10,1256.7L1116.35,1255.6L1116.60,1265.6L1116.85,1263.2L1117.10,1263.8L1117.35,1266.5L1117.60,1263.7L1117.85,1263.2L1118.10,1263.4L1118.35,1266.5L1118.60,1263.2L1118.85,1266.6L1119.10,1263.2L1119.35,1266.4L1119.60,1264.0L1119.85,1266.4L1120.10,1263.3L1120.35,1266.5L1120.60,1263.5L1120.85,1263.2L1121.10,1263.2L1121.35,1266.5L1121.60,1263.2L1121.85,1266.5L1122.10,1263.2L1122.35,1264.3L1122.60,1264.5L1122.85,1264.0L1123.10,1264.2L1123.35,1266.6L1123.60,1264.3L1123.85,1264.0L1124.10,1264.2L1124.35,1264.0L1124.60,1264.2L1124.85,1266.7L1125.10,1264.0L1125.35,1266.7L1125.60,1264.0L1125.85,1264.0L1126.10,1264.5L1126.35,1266.7L1126.60,1264.0L1126.85,1266.7L1127.10,1264.0L1127.35,1264.0L1127.60,1264.0L1127.85,1243.1L1128.10,1243.1L1128.35,1266.6L1128.60,1243.1L1128.85,1266.6L1129.10,1243.1L1129.35,1266.7L1129.60,1243.1L1129.85,1243.1L1130.10,1266.0L1130.35,1264.2L1130.60,1261.4L1130.85,1266.7L1131.10,1261.9L1131.35,1267.0L1131.60,1262.1L1131.85,1267.0L1132.10,1261.8L1132.35,1267.1L1132.60,1262.4L1132.85,1267.1L1133.10,1261.4L1133.35,1266.6L1133.60,1261.4L1133.85,1264.5L1134.10,1264.6L1134.35,1266.7L1134.60,1264.7L1134.85,1266.7L1135.10,1264.7L1135.35,1266.7L1135.60,1264.6L1135.85,1266.7L1136.10,1265.0L1136.35,1264.5L1136.60,1264.8L1136.85,1264.6L1137.10,1266.3L1137.35,1267.2L1137.60,1266.3L1137.85,1267.3L1138.10,1266.4L1138.35,1267.3L1138.60,1266.3L1138.85,1267.3L1139.10,1266.5L1139.35,1267.3L1139.60,1266.5L1139.85,1267.3L1140.10,1266.3L1140.35,1267.3L1140.60,1266.3L1140.85,1267.4L1141.10,1266.5L1141.35,1267.4L1141.60,1266.4L1141.85,1266.4L1142.10,1266.4L1142.35,1266.4L1142.60,1266.4L1142.85,1266.4L1143.10,1266.4L1143.35,1266.5L1143.60,1266.5L1143.85,1266.5L1144.10,1266.5L1144.35,1266.5L1144.60,1266.4L1144.85,1266.7L1145.10,1266.4L1145.35,1266.7L1145.60,1266.4L1145.85,1266.7L1146.10,1266.5L1146.35,1266.7L1146.60,1266.5L1146.85,1267.1L1147.10,1266.6L1147.35,1267.1L1147.60,1266.6L1147.85,1267.1L1148.10,1266.6L1148.35,1267.1L1148.60,1266.7L1148.85,1267.1L1149.10,1266.6L1149.35,1233.1L1149.60,1233.1L1149.85,1266.9L1150.10,1233.1L1150.35,1266.9L1150.60,1233.1L1150.85,1266.9L1151.10,1233.1L1151.35,1233.1L1151.60,1264.4L1151.85,1266.9L1152.10,1257.4L1152.35,1266.9L1152.60,1259.7L1152.85,1266.9L1153.10,1259.0L1153.35,1267.0L1153.60,1259.1L1153.85,1267.0L1154.10,1257.4L1154.35,1267.5L1154.60,1259.2L1154.85,1267.6L1155.10,1257.4L1155.35,1263.2L1155.60,1263.3L1155.85,1267.6L1156.10,1263.5L1156.35,1267.6L1156.60,1263.3L1156.85,1267.6L1157.10,1264.2L1157.35,1267.6L1157.60,1264.3L1157.85,1267.6L1158.10,1263.9L1158.35,1263.2L1158.60,1266.7L1158.85,1267.2L1159.10,1266.7L1159.35,1267.2L1159.60,1266.7L1159.85,1267.2L1160.10,1266.7L1160.35,1267.2L1160.60,1266.7L1160.85,1267.2L1161.10,1266.7L1161.35,1267.2L1161.60,1266.8L1161.85,1265.6L1162.10,1266.0L1162.35,1267.3L1162.60,1265.7L1162.85,1265.6L1163.10,1266.8L1163.35,1267.8L1163.60,1265.1L1163.85,1267.8L1164.10,1265.3L1164.35,1267.8L1164.60,1265.5L1164.85,1267.9L1165.10,1265.5L1165.35,1266.9L1165.60,1265.3L1165.85,1265.1L1166.10,1265.5L1166.35,1265.1L1166.60,1265.9L1166.85,1267.0L1167.10,1265.8L1167.35,1267.0L1167.60,1265.7L1167.85,1267.7L1168.10,1267.0L1168.35,1267.8L1168.60,1267.0L1168.85,1267.8L1169.10,1267.0L1169.35,1267.8L1169.60,1266.9L1169.85,1267.8L1170.10,1266.9L1170.35,1267.8L1170.60,1266.9L1170.85,1267.8L1171.10,1267.1L1171.35,1267.8L1171.60,1267.0L1171.85,1267.8L1172.10,1266.9L1172.35,1267.2L1172.60,1260.6L1172.85,1267.2L1173.10,1261.1L1173.35,1267.2L1173.60,1262.2L1173.85,1267.2L1174.10,1260.9L1174.35,1260.6L1174.60,1266.9L1174.85,1267.2L1175.10,1267.0L1175.35,1267.3L1175.60,1267.0L1175.85,1265.8L1176.10,1266.1L1176.35,1265.1L1176.60,1265.3L1176.85,1267.3L1177.10,1265.2L1177.35,1265.1L1177.60,1265.1L1177.85,1267.3L1178.10,1266.3L1178.35,1267.3L1178.60,1265.1L1178.85,1267.3L1179.10,1265.7L1179.35,1267.1L1179.60,1265.4L1179.85,1267.1L1180.10,1265.3L1180.35,1267.1L1180.60,1265.1L1180.85,1266.3L1181.10,1267.1L1181.35,1267.1L1181.60,1267.1L1181.85,1267.1L1182.10,1267.2L1182.35,1267.2L1182.60,1267.2L1182.85,1267.2L1183.10,1267.2L1183.35,1265.2L1183.60,1265.3L1183.85,1267.2L1184.10,1265.6L1184.35,1267.2L1184.60,1265.2L1184.85,1267.2L1185.10,1267.2L1185.35,1265.1L1185.60,1265.5L1185.85,1267.2L1186.10,1265.4L1186.35,1267.2L1186.60,1265.3L1186.85,1267.2L1187.10,1265.4L1187.35,1267.2L1187.60,1265.6L1187.85,1267.1L1188.10,1265.4L1188.35,1265.1L1188.60,1267.1L1188.85,1267.1L1189.10,1241.2L1189.35,1267.1L1189.60,1241.2L1189.85,1267.1L1190.10,1241.2L1190.35,1267.1L1190.60,1241.2L1190.85,1267.1L1191.10,1241.2L1191.35,1268.3L1191.60,1241.2L1191.85,1268.3L1192.10,1267.4L1192.35,1262.7L1192.60,1263.9L1192.85,1268.3L1193.10,1263.8L1193.35,1268.3L1193.60,1263.4L1193.85,1268.4L1194.10,1262.9L1194.35,1268.4L1194.60,1263.5L1194.85,1267.5L1195.10,1263.7L1195.35,1267.5L1195.60,1263.9L1195.85,1262.7L1196.10,1265.3L1196.35,1267.6L1196.60,1265.4L1196.85,1268.1L1197.10,1265.3L1197.35,1268.1L1197.60,1265.7L1197.85,1262.5L1198.10,1263.6L1198.35,1268.1L1198.60,1262.6L1198.85,1262.5L1199.10,1263.3L1199.35,1268.1L1199.60,1262.5L1199.85,1268.1L1200.10,1265.9L1200.35,1268.1L1200.60,1266.3L1200.85,1268.1L1201.10,1265.7L1201.35,1265.5L1201.60,1265.7L1201.85,1268.2L1202.10,1265.5L1202.35,1268.2L1202.60,1266.0L1202.85,1268.2L1203.10,1265.7L1203.35,1265.5L1203.60,1267.4L1203.85,1268.5L1204.10,1267.3L1204.35,1268.5L1204.60,1267.4L1204.85,1268.5L1205.10,1267.4L1205.35,1268.5L1205.60,1267.4L1205.85,1265.8L1206.10,1266.2L1206.35,1265.6L1206.60,1265.8L1206.85,1268.6L1207.10,1266.0L1207.35,1261.2L1207.60,1262.8L1207.85,1261.2L1208.10,1262.2L1208.35,1268.4L1208.60,1261.3L1208.85,1261.2L1209.10,1267.6L1209.35,1268.4L1209.60,1267.4L1209.85,1268.4L1210.10,1267.5L1210.35,1268.4L1210.60,1267.5L1210.85,1268.4L1211.10,1267.6L1211.35,1268.4L1211.60,1267.5L1211.85,1268.5L1212.10,1266.0L1212.35,1268.5L1212.60,1266.3L1212.85,1268.5L1213.10,1266.4L1213.35,1266.0L1213.60,1267.6L1213.85,1268.5L1214.10,1267.5L1214.35,1268.5L1214.60,1267.6L1214.85,1268.5L1215.10,1267.6L1215.35,1268.5L1215.60,1267.5L1215.85,1268.5L1216.10,1267.6L1216.35,1268.5L1216.60,1267.6L1216.85,1268.0L1217.10,1267.5L1217.35,1268.0L1217.60,1267.6L1217.85,1268.0L1218.10,1267.6L1218.35,1265.9L1218.60,1266.2L1218.85,1268.0L1219.10,1266.1L1219.35,1268.1L1219.60,1266.4L1219.85,1268.1L1220.10,1266.0L1220.35,1268.1L1220.60,1266.5L1220.85,1268.9L1221.10,1265.9L1221.35,1268.9L1221.60,1267.7L1221.85,1268.9L1222.10,1267.7L1222.35,1268.9L1222.60,1267.6L1222.85,1267.8L1223.10,1267.6L1223.35,1267.8L1223.60,1267.7L1223.85,1267.9L1224.10,1260.6L1224.35,1267.9L1224.60,1262.2L1224.85,1267.9L1225.10,1260.8L1225.35,1267.9L1225.60,1261.5L1225.85,1267.9L1226.10,1260.6L1226.35,1260.6L1226.60,1265.7L1226.85,1268.0L1227.10,1266.1L1227.35,1268.0L1227.60,1265.7L1227.85,1265.7L1228.10,1266.0L1228.35,1268.0L1228.60,1266.3L1228.85,1265.7L1229.10,1267.7L1229.35,1268.0L1229.60,1267.7L1229.85,1268.0L1230.10,1267.7L1230.35,1265.6L1230.60,1265.9L1230.85,1268.9L1231.10,1265.9L1231.35,1265.6L1231.60,1266.6L1231.85,1268.9L1232.10,1266.8L1232.35,1268.9L1232.60,1266.6L1232.85,1268.9L1233.10,1268.0L1233.35,1268.9L1233.60,1267.9L1233.85,1268.1L1234.10,1267.8L1234.35,1265.7L1234.60,1265.8L1234.85,1268.1L1235.10,1265.7L1235.35,1265.7L1235.60,1266.3L1235.85,1265.7L1236.10,1266.2L1236.35,1268.2L1236.60,1266.6L1236.85,1266.0L1237.10,1266.2L1237.35,1267.9L1237.60,1266.3L1237.85,1267.9L1238.10,1266.3L1238.35,1267.9L1238.60,1266.0L1238.85,1267.9L1239.10,1266.1L1239.35,1266.0L1239.60,1266.9L1239.85,1268.2L1240.10,1267.1L1240.35,1268.2L1240.60,1267.0L1240.85,1268.2L1241.10,1267.0L1241.35,1266.9L1241.60,1267.9L1241.85,1268.2L1242.10,1258.1L1242.35,1258.1L1242.60,1258.9L1242.85,1267.9L1243.10,1259.2L1243.35,1268.0L1243.60,1258.9L1243.85,1268.0L1244.10,1258.1L1244.35,1268.0L1244.60,1268.0L1244.85,1265.5L1245.10,1265.7L1245.35,1268.2L1245.60,1265.8L1245.85,1268.2L1246.10,1266.0L1246.35,1268.2L1246.60,1265.5L1246.85,1268.2L1247.10,1266.2L1247.35,1268.2L1247.60,1265.8L1247.85,1265.5L1248.10,1267.4L1248.35,1269.3L1248.60,1267.9L1248.85,1269.3L1249.10,1267.4L1249.35,1269.3L1249.60,1267.5L1249.85,1269.3L1250.10,1267.5L1250.35,1269.3L1250.60,1267.9L1250.85,1269.3L1251.10,1267.6L1251.35,1267.4L1251.60,1268.3L1251.85,1269.3L1252.10,1268.2L1252.35,1268.8L1252.60,1268.1L1252.85,1268.8L1253.10,1262.5L1253.35,1268.9L1253.60,1263.0L1253.85,1268.9L1254.10,1263.0L1254.35,1268.9L1254.60,1263.2L1254.85,1268.2L1255.10,1263.5L1255.35,1268.2L1255.60,1262.5L1255.85,1268.2L1256.10,1268.2L1256.35,1268.2L1256.60,1268.2L1256.85,1268.2L1257.10,1268.2L1257.35,1268.2L1257.60,1268.2L1257.85,1268.2L1258.10,1268.2L1258.35,1269.4L1258.60,1268.2L1258.85,1269.4L1259.10,1268.4L1259.35,1269.4L1259.60,1268.3L1259.85,1269.4L1260.10,1268.3L1260.35,1269.4L1260.60,1268.4L1260.85,1269.3L1261.10,1268.3L1261.35,1269.3L1261.60,1268.4L1261.85,1266.9L1262.10,1267.1L1262.35,1269.3L1262.60,1267.2L1262.85,1266.9L1263.10,1266.9L1263.35,1269.4L1263.60,1267.6L1263.85,1269.1L1264.10,1267.6L1264.35,1269.1L1264.60,1267.8L1264.85,1269.1L1265.10,1267.7L1265.35,1269.1L1265.60,1267.5L1265.85,1269.5L1266.10,1267.3L1266.35,1256.2L1266.60,1256.2L1266.85,1269.5L1267.10,1256.2L1267.35,1269.5L1267.60,1256.2L1267.85,1269.5L1268.10,1256.2L1268.35,1256.2L1268.60,1267.6L1268.85,1267.3L1269.10,1265.6L1269.35,1269.5L1269.60,1266.4L1269.85,1269.6L1270.10,1266.5L1270.35,1269.1L1270.60,1265.7L1270.85,1269.1L1271.10,1266.5L1271.35,1269.1L1271.60,1265.6L1271.85,1269.1L1272.10,1265.6L1272.35,1267.1L1272.60,1267.5L1272.85,1269.5L1273.10,1267.3L1273.35,1269.5L1273.60,1267.3L1273.85,1269.5L1274.10,1267.4L1274.35,1269.5L1274.60,1267.5L1274.85,1269.5L1275.10,1267.4L1275.35,1267.1L1275.60,1268.5L1275.85,1268.8L1276.10,1268.5L1276.35,1268.8L1276.60,1268.5L1276.85,1268.8L1277.10,1268.5L1277.35,1269.1L1277.60,1268.6L1277.85,1269.1L1278.10,1268.5L1278.35,1269.1L1278.60,1267.7L1278.85,1269.1L1279.10,1267.8L1279.35,1269.1L1279.60,1267.9L1279.85,1269.2L1280.10,1267.7L1280.35,1269.2L1280.60,1268.6L1280.85,1269.2L1281.10,1268.7L1281.35,1269.2L1281.60,1268.9L1281.85,1260.6L1282.10,1262.5L1282.35,1269.9L1282.60,1261.4L1282.85,1269.9L1283.10,1262.7L1283.35,1269.9L1283.60,1262.3L1283.85,1269.9L1284.10,1261.0L1284.35,1260.6L1284.60,1268.9L1284.85,1268.6L1285.10,1268.6L1285.35,1268.6L1285.60,1268.6L1285.85,1268.6L1286.10,1268.6L1286.35,1268.6L1286.60,1268.6L1286.85,1268.7L1287.10,1268.7L1287.35,1268.7L1287.60,1268.8L1287.85,1268.8L1288.10,1268.8L1288.35,1268.8L1288.60,1268.8L1288.85,1268.8L1289.10,1268.9L1289.35,1268.9L1289.60,1268.9L1289.85,1268.9L1290.10,1268.9L1290.35,1268.9L1290.60,1268.7L1290.85,1269.5L1291.10,1268.8L1291.35,1269.5L1291.60,1268.8L1291.85,1269.5L1292.10,1268.9L1292.35,1269.5L1292.60,1268.9L1292.85,1269.5L1293.10,1268.0L1293.35,1269.5L1293.60,1268.4L1293.85,1269.5L1294.10,1268.1L1294.35,1268.0L1294.60,1268.8L1294.85,1269.6L1295.10,1268.8L1295.35,1267.5L1295.60,1267.8L1295.85,1269.6L1296.10,1267.7L1296.35,1269.6L1296.60,1267.6L1296.85,1269.6L1297.10,1267.6L1297.35,1269.2L1297.60,1267.5L1297.85,1269.2L1298.10,1268.9L1298.35,1269.3L1298.60,1268.9L1298.85,1269.3L1299.10,1268.9L1299.35,1269.3L1299.60,1268.9L1299.85,1269.3L1300.10,1268.9L1300.35,1269.3L1300.60,1268.9L1300.85,1269.3L1301.10,1269.0L1301.35,1269.9L1301.60,1269.0L1301.85,1269.9L1302.10,1268.9L1302.35,1269.9L1302.60,1269.0L1302.85,1269.9L1303.10,1269.0L1303.35,1270.0L1303.60,1269.0L1303.85,1270.0L1304.10,1269.0L1304.35,1270.0L1304.60,1269.1L1304.85,1270.1L1305.10,1269.0L1305.35,1270.1L1305.60,1269.2L1305.85,1270.1L1306.10,1251.8L1306.35,1270.1L1306.60,1251.8L1306.85,1270.1L1307.10,1251.8L1307.35,1270.1L1307.60,1251.8L1307.85,1270.1L1308.10,1251.8L1308.35,1267.0L1308.60,1269.0L1308.85,1266.1L1309.10,1266.2L1309.35,1269.3L1309.60,1266.4L1309.85,1269.3L1310.10,1266.3L1310.35,1269.3L1310.60,1266.3L1310.85,1269.3L1311.10,1266.5L1311.35,1269.3L1311.60,1266.1L1311.85,1266.1L1312.10,1267.2L1312.35,1269.7L1312.60,1267.4L1312.85,1269.7L1313.10,1267.3L1313.35,1267.2L1313.60,1267.7L1313.85,1269.8L1314.10,1267.5L1314.35,1269.8L1314.60,1267.7L1314.85,1269.8L1315.10,1267.2L1315.35,1267.2L1315.60,1267.8L1315.85,1270.0L1316.10,1267.9L1316.35,1270.0L1316.60,1267.8L1316.85,1270.0L1317.10,1267.8L1317.35,1270.0L1317.60,1267.8L1317.85,1269.3L1318.10,1267.6L1318.35,1269.3L1318.60,1269.3L1318.85,1269.3L1319.10,1269.3L1319.35,1269.3L1319.60,1269.3L1319.85,1269.3L1320.10,1269.3L1320.35,1269.3L1320.60,1269.4L1320.85,1268.2L1321.10,1268.3L1321.35,1269.4L1321.60,1268.5L1321.85,1270.2L1322.10,1268.4L1322.35,1270.2L1322.60,1268.4L1322.85,1270.3L1323.10,1268.4L1323.35,1270.3L1323.60,1268.6L1323.85,1268.2L1324.10,1269.5L1324.35,1270.3L1324.60,1269.4L1324.85,1270.3L1325.10,1269.4L1325.35,1269.6L1325.60,1269.3L1325.85,1269.6L1326.10,1269.4L1326.35,1269.6L1326.60,1269.3L1326.85,1269.7L1327.10,1269.4L1327.35,1269.7L1327.60,1269.4L1327.85,1269.7L1328.10,1269.4L1328.35,1270.1L1328.60,1269.4L1328.85,1270.1L1329.10,1269.4L1329.35,1270.1L1329.60,1269.4L1329.85,1270.1L1330.10,1269.4L1330.35,1270.1L1330.60,1269.5L1330.85,1270.1L1331.10,1269.5L1331.35,1270.1L1331.60,1269.4L1331.85,1270.2L1332.10,1269.4L1332.35,1264.3L1332.60,1265.1L1332.85,1270.2L1333.10,1265.7L1333.35,1270.2L1333.60,1264.4L1333.85,1264.3L1334.10,1269.5L1334.35,1270.2L1334.60,1269.4L1334.85,1270.2L1335.10,1269.5L1335.35,1270.6L1335.60,1267.6L1335.85,1270.6L1336.10,1267.6L1336.35,1270.6L1336.60,1268.1L1336.85,1270.6L1337.10,1267.8L1337.35,1270.6L1337.60,1267.9L1337.85,1267.6L1338.10,1269.6L1338.35,1269.6L1338.60,1269.6L1338.85,1269.6L1339.10,1269.6L1339.35,1269.6L1339.60,1269.6L1339.85,1269.6L1340.10,1269.6L1340.35,1269.6L1340.60,1269.6L1340.85,1269.6L1341.10,1269.7L1341.35,1269.7L1341.60,1269.7L1341.85,1269.7L1342.10,1269.7L1342.35,1269.8L1342.60,1269.6L1342.85,1269.8L1343.10,1269.6L1343.35,1269.8L1343.60,1269.6L1343.85,1269.8L1344.10,1269.6L1344.35,1269.8L1344.60,1269.6L1344.85,1270.9L1345.10,1269.7L1345.35,1270.9L1345.60,1269.8L1345.85,1270.9L1346.10,1269.8L1346.35,1270.9L1346.60,1269.9L1346.85,1270.9L1347.10,1269.8L1347.35,1270.9L1347.60,1269.8L1347.85,1270.9L1348.10,1269.9L1348.35,1263.7L1348.60,1265.2L1348.85,1270.9L1349.10,1264.8L1349.35,1270.1L1349.60,1263.8L1349.85,1270.1L1350.10,1264.4L1350.35,1263.7L1350.60,1269.7L1350.85,1270.1L1351.10,1269.7L1351.35,1270.3L1351.60,1269.7L1351.85,1270.3L1352.10,1269.8L1352.35,1270.3L1352.60,1269.7L1352.85,1270.3L1353.10,1269.8L1353.35,1270.3L1353.60,1269.7L1353.85,1269.8L1354.10,1269.8L1354.35,1269.8L1354.60,1269.8L1354.85,1268.3L1355.10,1268.6L1355.35,1269.8L1355.60,1268.6L1355.85,1267.8L1356.10,1267.9L1356.35,1269.8L1356.60,1267.8L1356.85,1269.8L1357.10,1268.1L1357.35,1269.8L1357.60,1267.9L1357.85,1269.8L1358.10,1267.8L1358.35,1269.8L1358.60,1269.8L1358.85,1270.4L1359.10,1269.8L1359.35,1270.4L1359.60,1269.8L1359.85,1270.4L1360.10,1269.9L1360.35,1270.4L1360.60,1263.1L1360.85,1270.4L1361.10,1263.2L1361.35,1270.8L1361.60,1263.5L1361.85,1270.8L1362.10,1263.3L1362.35,1270.8L1362.60,1264.7L1362.85,1270.8L1363.10,1264.1L1363.35,1270.8L1363.60,1264.0L1363.85,1270.8L1364.10,1264.2L1364.35,1263.1L1364.60,1270.0L1364.85,1270.0L1365.10,1270.0L1365.35,1270.0L1365.60,1270.0L1365.85,1270.0L1366.10,1270.0L1366.35,1270.0L1366.60,1270.0L1366.85,1270.0L1367.10,1270.0L1367.35,1270.0L1367.60,1270.0L1367.85,1271.2L1368.10,1270.1L1368.35,1271.2L1368.60,1270.1L1368.85,1271.2L1369.10,1270.0L1369.35,1271.2L1369.60,1268.0L1369.85,1271.2L1370.10,1268.3L1370.35,1271.2L1370.60,1268.4L1370.85,1270.0L1371.10,1268.5L1371.35,1268.0L1371.60,1270.0L1371.85,1270.0L1372.10,1270.0L1372.35,1270.0L1372.60,1270.0L1372.85,1270.0L1373.10,1270.0L1373.35,1270.0L1373.60,1270.0L1373.85,1270.0L1374.10,1270.0L1374.35,1270.0L1374.60,1270.0L1374.85,1270.0L1375.10,1270.0L1375.35,1270.3L1375.60,1270.0L1375.85,1270.3L1376.10,1270.0L1376.35,1270.3L1376.60,1269.9L1376.85,1270.3L1377.10,1269.9L1377.35,1270.4L1377.60,1270.0L1377.85,1270.4L1378.10,1270.0L1378.35,1270.4L1378.60,1270.0L1378.85,1270.4L1379.10,1270.0L1379.35,1269.9L1379.60,1269.9L1379.85,1270.0L1380.10,1270.0L1380.35,1270.0L1380.60,1270.0L1380.85,1270.0L1381.10,1270.0L1381.35,1270.0L1381.60,1270.0L1381.85,1270.0L1382.10,1268.1L1382.35,1270.0L1382.60,1268.1L1382.85,1270.0L1383.10,1268.4L1383.35,1270.0L1383.60,1268.2L1383.85,1270.2L1384.10,1268.1L1384.35,1270.2L1384.60,1270.0L1384.85,1270.2L1385.10,1270.1L1385.35,1267.9L1385.60,1267.9L1385.85,1270.2L1386.10,1268.4L1386.35,1270.2L1386.60,1268.1L1386.85,1267.9L1387.10,1270.1L1387.35,1270.2L1387.60,1269.3L1387.85,1270.2L1388.10,1269.4L1388.35,1271.0L1388.60,1269.3L1388.85,1271.0L1389.10,1270.1L1389.35,1271.0L1389.60,1270.2L1389.85,1271.0L1390.10,1270.1L1390.35,1271.0L1390.60,1270.2L1390.85,1271.0L1391.10,1270.1L1391.35,1270.3L1391.60,1270.1L1391.85,1270.3L1392.10,1270.1L1392.35,1270.3L1392.60,1270.1L1392.85,1270.3L1393.10,1270.1L1393.35,1270.3L1393.60,1270.2L1393.85,1270.3L1394.10,1270.1L1394.35,1270.3L1394.60,1270.2L1394.85,1270.5L1395.10,1270.2L1395.35,1270.5L1395.60,1270.1L1395.85,1270.5L1396.10,1270.1L1396.35,1270.5L1396.60,1270.2L1396.85,1270.5L1397.10,1258.1L1397.35,1270.4L1397.60,1258.1L1397.85,1270.4L1398.10,1258.1L1398.35,1270.4L1398.60,1258.1L1398.85,1270.4L1399.10,1258.1L1399.35,1270.8L1399.60,1270.2L1399.85,1268.6L1400.10,1268.7L1400.35,1270.8L1400.60,1269.0L1400.85,1270.8L1401.10,1269.0L1401.35,1268.6L1401.60,1269.2L1401.85,1271.0L1402.10,1268.9L1402.35,1271.0L1402.60,1268.8L1402.85,1268.6L1403.10,1269.4L1403.35,1271.0L1403.60,1269.5L1403.85,1271.0L1404.10,1269.5L1404.35,1270.4L1404.60,1269.5L1404.85,1270.4L1405.10,1269.6L1405.35,1270.4L1405.60,1269.4L1405.85,1270.4L1406.10,1265.0L1406.35,1265.0L1406.60,1265.5L1406.85,1270.4L1407.10,1265.5L1407.35,1265.0L1407.60,1265.0L1407.85,1271.2L1408.10,1269.0L1408.35,1271.2L1408.60,1269.3L1408.85,1271.2L1409.10,1269.5L1409.35,1271.2L1409.60,1269.1L1409.85,1270.8L1410.10,1268.9L1410.35,1268.9L1410.60,1269.3L1410.85,1270.8L1411.10,1269.4L1411.35,1270.9L1411.60,1269.1L1411.85,1270.9L1412.10,1269.4L1412.35,1268.9L1412.60,1268.9L1412.85,1270.9L1413.10,1270.4L1413.35,1270.9L1413.60,1270.4L1413.85,1270.9L1414.10,1270.3L1414.35,1270.9L1414.60,1270.4L1414.85,1270.9L1415.10,1270.3L1415.35,1270.9L1415.60,1270.5L1415.85,1270.9L1416.10,1268.6L1416.35,1270.9L1416.60,1269.0L1416.85,1266.8L1417.10,1266.9L1417.35,1271.5L1417.60,1266.8L1417.85,1271.5L1418.10,1266.8L1418.35,1271.5L1418.60,1269.0L1418.85,1268.6L1419.10,1268.6L1419.35,1269.2L1419.60,1270.4L1419.85,1271.5L1420.10,1270.6L1420.35,1271.5L1420.60,1270.5L1420.85,1271.5L1421.10,1270.7L1421.35,1269.6L1421.60,1269.9L1421.85,1271.3L1422.10,1269.6L1422.35,1271.3L1422.60,1269.7L1422.85,1271.3L1423.10,1269.8L1423.35,1271.3L1423.60,1270.0L1423.85,1271.4L1424.10,1269.7L1424.35,1269.6L1424.60,1270.4L1424.85,1270.7L1425.10,1270.5L1425.35,1270.7L1425.60,1270.5L1425.85,1270.7L1426.10,1270.5L1426.35,1270.7L1426.60,1270.5L1426.85,1271.2L1427.10,1270.5L1427.35,1271.2L1427.60,1270.6L1427.85,1271.2L1428.10,1270.6L1428.35,1271.3L1428.60,1268.9L1428.85,1271.3L1429.10,1269.4L1429.35,1271.3L1429.60,1268.9L1429.85,1271.3L1430.10,1270.5L1430.35,1270.8L1430.60,1270.5L1430.85,1270.8L1431.10,1270.5L1431.35,1270.8L1431.60,1270.5L1431.85,1270.8L1432.10,1270.5L1432.35,1270.8L1432.60,1270.5L1432.85,1270.8L1433.10,1270.5L1433.35,1270.8L1433.60,1270.5L1433.85,1270.8L1434.10,1270.6L1434.35,1270.8L1434.60,1270.5L1434.85,1271.2L1435.10,1270.6L1435.35,1271.2L1435.60,1270.6L1435.85,1271.2L1436.10,1270.6L1436.35,1269.6L1436.60,1269.9L1436.85,1271.2L1437.10,1269.3L1437.35,1271.2L1437.60,1269.3L1437.85,1271.2L1438.10,1269.5L1438.35,1271.2L1438.60,1269.5L1438.85,1271.8L1439.10,1269.7L1439.35,1271.8L1439.60,1269.3L1439.85,1271.8L1440.10,1270.7L1440.35,1271.8L1440.60,1269.6L1440.85,1271.8L1441.10,1269.8L1441.35,1270.9L1441.60,1269.7L1441.85,1269.6L1442.10,1270.6L1442.35,1270.9L1442.60,1270.7L1442.85,1270.9L1443.10,1270.6L1443.35,1270.9L1443.60,1270.7L1443.85,1270.9L1444.10,1270.6L1444.35,1270.9L1444.60,1270.7L1444.85,1270.9L1445.10,1270.7L1445.35,1270.9L1445.60,1270.7L1445.85,1270.9L1446.10,1270.7L1446.35,1270.9L1446.60,1270.7L1446.85,1270.9L1447.10,1270.7L1447.35,1265.0L1447.60,1265.3L1447.85,1270.9L1448.10,1265.8L1448.35,1270.9L1448.60,1266.2L1448.85,1265.0L1449.10,1270.7L1449.35,1270.9L1449.60,1270.8L1449.85,1271.2L1450.10,1270.8L1450.35,1271.2L1450.60,1270.7L1450.85,1271.2L1451.10,1270.8L1451.35,1271.2L1451.60,1270.8L1451.85,1270.9L1452.10,1270.9L1452.35,1270.9L1452.60,1270.9L1452.85,1270.9L1453.10,1270.2L1453.35,1270.9L1453.60,1270.2L1453.85,1270.9L1454.10,1270.2L1454.35,1270.9L1454.60,1270.3L1454.85,1270.9L1455.10,1270.2L1455.35,1269.2L1455.60,1269.5L1455.85,1269.2L1456.10,1269.4L1456.35,1270.9L1456.60,1269.2L1456.85,1271.6L1457.10,1269.7L1457.35,1269.2L1457.60,1269.7L1457.85,1269.3L1458.10,1270.9L1458.35,1271.6L1458.60,1270.8L1458.85,1266.2L1459.10,1266.8L1459.35,1271.6L1459.60,1267.4L1459.85,1266.2L1460.10,1270.9L1460.35,1271.6L1460.60,1270.9L1460.85,1271.6L1461.10,1270.9L1461.35,1271.6L1461.60,1270.9L1461.85,1271.6L1462.10,1270.9L1462.35,1271.6L1462.60,1270.9L1462.85,1271.6L1463.10,1270.9L1463.35,1271.6L1463.60,1270.8L1463.85,1269.6L1464.10,1270.0L1464.35,1271.6L1464.60,1269.6L1464.85,1271.6L1465.10,1269.7L1465.35,1269.6L1465.60,1269.9L1465.85,1271.6L1466.10,1269.8L1466.35,1271.6L1466.60,1270.1L1466.85,1269.6L1467.10,1270.9L1467.35,1271.7L1467.60,1270.9L1467.85,1271.7L1468.10,1270.9L1468.35,1271.8L1468.60,1271.0L1468.85,1271.8L1469.10,1262.5L1469.35,1271.8L1469.60,1263.1L1469.85,1271.8L1470.10,1263.5L1470.35,1271.8L1470.60,1264.0L1470.85,1262.5L1471.10,1270.9L1471.35,1271.2L1471.60,1271.0L1471.85,1271.2L1472.10,1270.9L1472.35,1269.5L1472.60,1269.7L1472.85,1271.2L1473.10,1269.9L1473.35,1271.2L1473.60,1269.9L1473.85,1271.2L1474.10,1269.7L1474.35,1271.2L1474.60,1269.5L1474.85,1271.2L1475.10,1271.0L1475.35,1271.5L1475.60,1271.0L1475.85,1271.5L1476.10,1271.0L1476.35,1271.5L1476.60,1271.0L1476.85,1271.5L1477.10,1271.0L1477.35,1271.5L1477.60,1271.1L1477.85,1271.5L1478.10,1270.0L1478.35,1271.5L1478.60,1270.2L1478.85,1271.5L1479.10,1270.0L1479.35,1270.0L1479.60,1270.1L1479.85,1272.1L1480.10,1270.4L1480.35,1272.1L1480.60,1270.2L1480.85,1272.1L1481.10,1270.5L1481.35,1272.1L1481.60,1270.2L1481.85,1272.1L1482.10,1270.1L1482.35,1272.1L1482.60,1271.1L1482.85,1272.1L1483.10,1271.0L1483.35,1272.1L1483.60,1271.1L1483.85,1269.5L1484.10,1269.8L1484.35,1271.4L1484.60,1269.7L1484.85,1271.4L1485.10,1269.6L1485.35,1271.4L1485.60,1269.8L1485.85,1271.4L1486.10,1269.5L1486.35,1271.4L1486.60,1271.1L1486.85,1271.4L1487.10,1271.0L1487.35,1271.4L1487.60,1271.1L1487.85,1271.4L1488.10,1271.0L1488.35,1271.4L1488.60,1271.0L1488.85,1272.2L1489.10,1271.2L1489.35,1272.2L1489.60,1271.1L1489.85,1269.4L1490.10,1270.1L1490.35,1272.2L1490.60,1269.5L1490.85,1272.2L1491.10,1269.9L1491.35,1272.2L1491.60,1269.4L1491.85,1271.6L1492.10,1271.2L1492.35,1271.6L1492.60,1271.1L1492.85,1270.5L1493.10,1270.7L1493.35,1271.6L1493.60,1270.6L1493.85,1271.6L1494.10,1270.6L1494.35,1271.6L1494.60,1270.5L1494.85,1271.6L1495.10,1270.8L1495.35,1271.6L1495.60,1270.5L1495.85,1271.6L1496.10,1271.1L1496.35,1271.6L1496.60,1271.1L1496.85,1271.7L1497.10,1271.2L1497.35,1271.7L1497.60,1271.2L1497.85,1271.7L1498.10,1271.2L1498.35,1271.7L1498.60,1271.2L1498.85,1271.7L1499.10,1270.2L1499.35,1271.7L1499.60,1270.2L1499.85,1271.7L1500.10,1270.5L1500.35,1271.7L1500.60,1270.2L1500.85,1270.2L1501.10,1271.2L1501.35,1272.1L1501.60,1271.3L1501.85,1272.1L1502.10,1271.2L1502.35,1272.1L1502.60,1269.5L1502.85,1272.1L1503.10,1270.1L1503.35,1272.1L1503.60,1269.6L1503.85,1272.1L1504.10,1269.8L1504.35,1269.5L1504.60,1269.9L1504.85,1271.8L1505.10,1269.9L1505.35,1271.8L1505.60,1270.1L1505.85,1271.8L1506.10,1269.6L1506.35,1271.8L1506.60,1269.7L1506.85,1269.6L1507.10,1270.1L1507.35,1271.8L1507.60,1269.8L1507.85,1271.8L1508.10,1271.3L1508.35,1271.8L1508.60,1271.2L1508.85,1271.8L1509.10,1271.3L1509.35,1269.6L1509.60,1269.9L1509.85,1271.8L1510.10,1269.8L1510.35,1269.6L1510.60,1271.4L1510.85,1271.4L1511.10,1271.4L1511.35,1271.4L1511.60,1271.4L1511.85,1271.4L1512.10,1271.4L1512.35,1271.4L1512.60,1271.4L1512.85,1272.0L1513.10,1271.3L1513.35,1272.0L1513.60,1271.3L1513.85,1272.0L1514.10,1271.4L1514.35,1272.0L1514.60,1271.4L1514.85,1272.0L1515.10,1271.4L1515.35,1272.0L1515.60,1271.4L1515.85,1272.0L1516.10,1271.4L1516.35,1272.0L1516.60,1271.3L1516.85,1272.0L1517.10,1271.3L1517.35,1272.3L1517.60,1270.5L1517.85,1272.3L1518.10,1270.5L1518.35,1272.3L1518.60,1270.6L1518.85,1270.5L1519.10,1271.3L1519.35,1269.5L1519.60,1270.0L1519.85,1272.3L1520.10,1270.0L1520.35,1272.3L1520.60,1269.9L1520.85,1272.3L1521.10,1269.7L1521.35,1271.7L1521.60,1269.7L1521.85,1271.7L1522.10,1269.5L1522.35,1270.2L1522.60,1270.3L1522.85,1271.7L1523.10,1270.5L1523.35,1271.7L1523.60,1265.6L1523.85,1271.8L1524.10,1265.6L1524.35,1265.6L1524.60,1266.1L1524.85,1265.6L1525.10,1266.5L1525.35,1271.8L1525.60,1265.9L1525.85,1271.8L1526.10,1266.9L1526.35,1265.6L1526.60,1271.4L1526.85,1269.6L1527.10,1269.8L1527.35,1271.9L1527.60,1269.7L1527.85,1271.9L1528.10,1269.8L1528.35,1271.9L1528.60,1270.0L1528.85,1271.9L1529.10,1269.8L1529.35,1269.6L1529.60,1271.4L1529.85,1271.9L1530.10,1271.4L1530.35,1271.9L1530.60,1271.4L1530.85,1272.2L1531.10,1271.5L1531.35,1272.2L1531.60,1271.5L1531.85,1272.2L1532.10,1271.5L1532.35,1272.2L1532.60,1271.6L1532.85,1272.2L1533.10,1271.5L1533.35,1271.6L1533.60,1271.4L1533.85,1271.6L1534.10,1271.4L1534.35,1271.6L1534.60,1271.4L1534.85,1271.6L1535.10,1271.4L1535.35,1271.6L1535.60,1271.4L1535.85,1272.4L1536.10,1271.4L1536.35,1272.4L1536.60,1271.5L1536.85,1272.4L1537.10,1271.5L1537.35,1272.4L1537.60,1271.6L1537.85,1272.4L1538.10,1271.5L1538.35,1272.4L1538.60,1271.4L1538.85,1272.4L1539.10,1271.5L1539.35,1272.4L1539.60,1271.5L1539.85,1272.2L1540.10,1271.6L1540.35,1272.2L1540.60,1271.5L1540.85,1272.3L1541.10,1271.5L1541.35,1272.3L1541.60,1271.5L1541.85,1272.3L1542.10,1271.5L1542.35,1272.3L1542.60,1271.6L1542.85,1272.0L1543.10,1271.5L1543.35,1272.0L1543.60,1271.5L1543.85,1272.0L1544.10,1271.5L1544.35,1272.0L1544.60,1262.5L1544.85,1271.9L1545.10,1262.6L1545.35,1271.9L1545.60,1262.5L1545.85,1262.5L1546.10,1264.4L1546.35,1271.9L1546.60,1262.5L1546.85,1271.9L1547.10,1270.6L1547.35,1271.9L1547.60,1270.7L1547.85,1271.9L1548.10,1270.7L1548.35,1272.3L1548.60,1270.9L1548.85,1272.3L1549.10,1270.5L1549.35,1272.3L1549.60,1271.5L1549.85,1272.3L1550.10,1269.7L1550.35,1272.3L1550.60,1270.0L1550.85,1272.3L1551.10,1270.0L1551.35,1271.8L1551.60,1270.1L1551.85,1271.8L1552.10,1269.7L1552.35,1271.8L1552.60,1271.5L1552.85,1271.8L1553.10,1271.5L1553.35,1271.8L1553.60,1271.6L1553.85,1271.8L1554.10,1271.6L1554.35,1271.8L1554.60,1271.5L1554.85,1271.7L1555.10,1271.7L1555.35,1271.7L1555.60,1271.7L1555.85,1271.7L1556.10,1271.7L1556.35,1271.7L1556.60,1271.7L1556.85,1271.8L1557.10,1271.8L1557.35,1271.8L1557.60,1271.8L1557.85,1271.8L1558.10,1271.8L1558.35,1271.8L1558.60,1271.8L1558.85,1271.9L1559.10,1271.6L1559.35,1271.9L1559.60,1271.6L1559.85,1271.9L1560.10,1271.6L1560.35,1271.9L1560.60,1271.6L1560.85,1271.9L1561.10,1271.6L1561.35,1271.9L1561.60,1270.9L1561.85,1271.9L1562.10,1271.0L1562.35,1271.9L1562.60,1269.9L1562.85,1271.9L1563.10,1269.9L1563.35,1271.9L1563.60,1270.1L1563.85,1271.9L1564.10,1270.1L1564.35,1271.9L1564.60,1270.4L1564.85,1269.9L1565.10,1271.6L1565.35,1271.9L1565.60,1271.7L1565.85,1272.0L1566.10,1271.6L1566.35,1272.1L1566.60,1271.6L1566.85,1272.1L1567.10,1271.7L1567.35,1272.1L1567.60,1271.7L1567.85,1272.1L1568.10,1271.7L1568.35,1272.1L1568.60,1271.7L1568.85,1272.1L1569.10,1271.7L1569.35,1272.1L1569.60,1271.7L1569.85,1272.1L1570.10,1271.7L1570.35,1272.1L1570.60,1271.7L1570.85,1272.1L1571.10,1262.5L1571.35,1272.9L1571.60,1264.8L1571.85,1262.5L1572.10,1262.7L1572.35,1272.9L1572.60,1264.6L1572.85,1272.9L1573.10,1262.5L1573.35,1272.9L1573.60,1264.4L1573.85,1262.5L1574.10,1271.2L1574.35,1271.0L1574.60,1270.0L1574.85,1271.8L1575.10,1270.4L1575.35,1271.8L1575.60,1270.4L1575.85,1271.9L1576.10,1270.1L1576.35,1271.9L1576.60,1270.3L1576.85,1271.9L1577.10,1270.1L1577.35,1271.9L1577.60,1270.2L1577.85,1271.9L1578.10,1270.0L1578.35,1270.8L1578.60,1270.9L1578.85,1271.9L1579.10,1270.9L1579.35,1271.9L1579.60,1271.0L1579.85,1272.5L1580.10,1270.8L1580.35,1272.5L1580.60,1271.0L1580.85,1272.5L1581.10,1271.2L1581.35,1272.5L1581.60,1270.9L1581.85,1270.8L1582.10,1271.9L1582.35,1272.5L1582.60,1271.8L1582.85,1272.5L1583.10,1271.8L1583.35,1272.2L1583.60,1271.9L1583.85,1272.2L1584.10,1271.8L1584.35,1272.2L1584.60,1271.8L1584.85,1270.4L1585.10,1270.5L1585.35,1272.3L1585.60,1270.8L1585.85,1272.3L1586.10,1270.4L1586.35,1272.3L1586.60,1271.8L1586.85,1272.3L1587.10,1271.9L1587.35,1271.9L1587.60,1271.9L1587.85,1271.9L1588.10,1271.9L1588.35,1271.9L1588.60,1271.9L1588.85,1271.9L1589.10,1271.9L1589.35,1270.9L1589.60,1271.0L1589.85,1272.5L1590.10,1271.1L1590.35,1270.9L1590.60,1271.8L1590.85,1272.5L1591.10,1272.0L1591.35,1272.5L1591.60,1271.9L1591.85,1272.2L1592.10,1271.1L1592.35,1272.2L1592.60,1271.3L1592.85,1271.0L1593.10,1271.3L1593.35,1272.2L1593.60,1270.1L1593.85,1272.0L1594.10,1270.1L1594.35,1272.0L1594.60,1270.3L1594.85,1270.1L1595.10,1270.1L1595.35,1272.0L1595.60,1270.2L1595.85,1270.1L1596.10,1270.3L1596.35,1270.1L1596.60,1270.4L1596.85,1273.0L1597.10,1270.3L1597.35,1267.5L1597.60,1267.5L1597.85,1273.0L1598.10,1267.8L1598.35,1273.0L1598.60,1267.9L1598.85,1267.5L1599.10,1271.9L1599.35,1272.2L1599.60,1271.9L1599.85,1272.2L1600.10,1272.0L1600.35,1272.2L1600.60,1271.9L1600.85,1272.2L1601.10,1271.9L1601.35,1272.2L1601.60,1271.9L1601.85,1272.0L1602.10,1272.0L1602.35,1272.0L1602.60,1272.0L1602.85,1272.0L1603.10,1272.0L1603.35,1272.0L1603.60,1272.0L1603.85,1272.0L1604.10,1272.0L1604.35,1272.0L1604.60,1272.0L1604.85,1272.0L1605.10,1272.0L1605.35,1272.0L1605.60,1272.0L1605.85,1273.1L1606.10,1272.0L1606.35,1273.1L1606.60,1272.0L1606.85,1273.1L1607.10,1272.1L1607.35,1273.1L1607.60,1272.2L1607.85,1273.1L1608.10,1272.0L1608.35,1272.8L1608.60,1272.1L1608.85,1272.8L1609.10,1272.0L1609.35,1272.8L1609.60,1272.0L1609.85,1272.8L1610.10,1272.0L1610.35,1272.8L1610.60,1272.1L1610.85,1272.8L1611.10,1272.0L1611.35,1272.8L1611.60,1272.1L1611.85,1272.8L1612.10,1272.0L1612.35,1272.8L1612.60,1272.1L1612.85,1272.4L1613.10,1272.0L1613.35,1271.1L1613.60,1271.2L1613.85,1272.4L1614.10,1271.3L1614.35,1272.4L1614.60,1271.1L1614.85,1272.5L1615.10,1271.2L1615.35,1267.5L1615.60,1268.5L1615.85,1272.3L1616.10,1267.7L1616.35,1267.5L1616.60,1268.0L1616.85,1272.4L1617.10,1267.5L1617.35,1271.4L1617.60,1272.0L1617.85,1272.3L1618.10,1272.0L1618.35,1270.4L1618.60,1270.7L1618.85,1272.3L1619.10,1270.7L1619.35,1272.2L1619.60,1270.7L1619.85,1270.4L1620.10,1272.1L1620.35,1272.3L1620.60,1272.1L1620.85,1272.3L1621.10,1272.1L1621.35,1272.3L1621.60,1272.1L1621.85,1272.3L1622.10,1272.1L1622.35,1272.3L1622.60,1272.1L1622.85,1273.2L1623.10,1272.2L1623.35,1273.2L1623.60,1272.2L1623.85,1273.2L1624.10,1272.1L1624.35,1273.2L1624.60,1272.3L1624.85,1273.2L1625.10,1272.1L1625.35,1272.5L1625.60,1272.1L1625.85,1272.6L1626.10,1272.2L1626.35,1272.6L1626.60,1272.1L1626.85,1272.6L1627.10,1272.2L1627.35,1272.6L1627.60,1272.1L1627.85,1272.6L1628.10,1267.5L1628.35,1273.1L1628.60,1267.5L1628.85,1273.1L1629.10,1267.6L1629.35,1267.5L1629.60,1270.9L1629.85,1270.6L1630.10,1270.9L1630.35,1272.8L1630.60,1271.0L1630.85,1272.8L1631.10,1270.8L1631.35,1272.8L1631.60,1270.6L1631.85,1272.8L1632.10,1271.0L1632.35,1272.8L1632.60,1270.6L1632.85,1272.9L1633.10,1270.8L1633.35,1270.6L1633.60,1271.0L1633.85,1272.9L1634.10,1270.6L1634.35,1272.4L1634.60,1270.6L1634.85,1272.4L1635.10,1270.7L1635.35,1272.4L1635.60,1270.6L1635.85,1272.4L1636.10,1272.2L1636.35,1272.4L1636.60,1272.2L1636.85,1272.4L1637.10,1271.4L1637.35,1272.4L1637.60,1271.6L1637.85,1272.4L1638.10,1271.7L1638.35,1273.0L1638.60,1271.5L1638.85,1271.4L1639.10,1268.1L1639.35,1273.0L1639.60,1269.0L1639.85,1273.0L1640.10,1269.3L1640.35,1273.0L1640.60,1268.2L1640.85,1268.1L1641.10,1272.3L1641.35,1273.2L1641.60,1272.4L1641.85,1273.2L1642.10,1272.4L1642.35,1273.3L1642.60,1272.5L1642.85,1273.3L1643.10,1272.3L1643.35,1273.3L1643.60,1272.4L1643.85,1273.3L1644.10,1272.3L1644.35,1273.3L1644.60,1272.4L1644.85,1273.3L1645.10,1272.4L1645.35,1273.3L1645.60,1270.9L1645.85,1273.0L1646.10,1271.0L1646.35,1273.0L1646.60,1271.1L1646.85,1270.9L1647.10,1272.3L1647.35,1273.0L1647.60,1272.3L1647.85,1273.0L1648.10,1272.3L1648.35,1273.0L1648.60,1272.4L1648.85,1273.0L1649.10,1272.3L1649.35,1273.4L1649.60,1272.6L1649.85,1273.4L1650.10,1272.6L1650.35,1273.4L1650.60,1272.6L1650.85,1273.4L1651.10,1272.5L1651.35,1272.6L1651.60,1271.3L1651.85,1272.6L1652.10,1271.3L1652.35,1272.6L1652.60,1271.4L1652.85,1272.6L1653.10,1271.4L1653.35,1271.3L1653.60,1272.4L1653.85,1273.4L1654.10,1272.4L1654.35,1273.4L1654.60,1272.6L1654.85,1273.4L1655.10,1272.6L1655.35,1270.9L1655.60,1271.4L1655.85,1273.4L1656.10,1271.1L1656.35,1273.4L1656.60,1271.4L1656.85,1273.4L1657.10,1271.4L1657.35,1273.0L1657.60,1271.1L1657.85,1273.0L1658.10,1270.9L1658.35,1273.0L1658.60,1272.4L1658.85,1273.0L1659.10,1272.4L1659.35,1273.0L1659.60,1272.5L1659.85,1273.0L1660.10,1272.5L1660.35,1273.0L1660.60,1271.8L1660.85,1273.0L1661.10,1271.8L1661.35,1273.0L1661.60,1271.9L1661.85,1272.6L1662.10,1271.9L1662.35,1272.6L1662.60,1272.0L1662.85,1272.6L1663.10,1271.8L1663.35,1272.6L1663.60,1272.6L1663.85,1272.6L1664.10,1272.5L1664.35,1273.7L1664.60,1272.7L1664.85,1273.7L1665.10,1272.6L1665.35,1273.7L1665.60,1272.7L1665.85,1273.7L1666.10,1272.7L1666.35,1273.7L1666.60,1272.7L1666.85,1271.6L1667.10,1272.0L1667.35,1273.7L1667.60,1271.8L1667.85,1273.7L1668.10,1271.7L1668.35,1271.1L1668.60,1271.1L1668.85,1270.8L1669.10,1270.8L1669.35,1273.6L1669.60,1271.0L1669.85,1270.8L1670.10,1270.9L1670.35,1273.6L1670.60,1270.8L1670.85,1271.1L1671.10,1271.1L1671.35,1273.0L1671.60,1271.5L1671.85,1273.0L1672.10,1271.2L1672.35,1273.0L1672.60,1271.2L1672.85,1273.0L1673.10,1271.1L1673.35,1271.1L1673.60,1272.6L1673.85,1273.0L1674.10,1272.7L1674.35,1272.7L1674.60,1272.7L1674.85,1272.7L1675.10,1271.8L1675.35,1272.7L1675.60,1272.0L1675.85,1272.7L1676.10,1272.0L1676.35,1271.2L1676.60,1271.4L1676.85,1271.2L1677.10,1271.3L1677.35,1272.7L1677.60,1271.2L1677.85,1272.9L1678.10,1271.6L1678.35,1272.9L1678.60,1271.4L1678.85,1271.2L1679.10,1271.7L1679.35,1271.4L1679.60,1271.4L1679.85,1271.4L1680.10,1271.4L1680.35,1271.4L1680.60,1271.9L1680.85,1273.3L1681.10,1271.9L1681.35,1271.7L1681.60,1271.9L1681.85,1273.3L1682.10,1271.9L1682.35,1273.3L1682.60,1271.7L1682.85,1271.0L1683.10,1271.4L1683.35,1273.3L1683.60,1271.0L1683.85,1273.3L1684.10,1271.1L1684.35,1271.0L1684.60,1272.7L1684.85,1273.8L1685.10,1272.8L1685.35,1273.8L1685.60,1272.8L1685.85,1273.8L1686.10,1272.8L1686.35,1273.8L1686.60,1272.7L1686.85,1273.8L1687.10,1272.8L1687.35,1273.8L1687.60,1272.8L1687.85,1273.8L1688.10,1272.8L1688.35,1273.8L1688.60,1273.0L1688.85,1273.8L1689.10,1273.0L1689.35,1271.3L1689.60,1271.3L1689.85,1273.1L1690.10,1271.5L1690.35,1273.2L1690.60,1271.4L1690.85,1273.2L1691.10,1271.5L1691.35,1273.2L1691.60,1271.3L1691.85,1273.2L1692.10,1271.3L1692.35,1273.4L1692.60,1271.8L1692.85,1273.4L1693.10,1271.8L1693.35,1273.4L1693.60,1271.8L1693.85,1273.4L1694.10,1271.8L1694.35,1273.4L1694.60,1272.8L1694.85,1273.4L1695.10,1272.9L1695.35,1273.5L1695.60,1272.8L1695.85,1273.5L1696.10,1272.9L1696.35,1273.5L1696.60,1272.9L1696.85,1273.0L1697.10,1273.0L1697.35,1271.9L1697.60,1271.9L1697.85,1273.0L1698.10,1272.1L1698.35,1273.0L1698.60,1272.1L1698.85,1273.0L1699.10,1271.9L1699.35,1273.6L1699.60,1272.1L1699.85,1273.6L1700.10,1271.9L1700.35,1273.6L1700.60,1272.9L1700.85,1267.5L1701.10,1267.9L1701.35,1273.6L1701.60,1267.9L1701.85,1273.6L1702.10,1267.6L1702.35,1273.6L1702.60,1268.4L1702.85,1267.5L1703.10,1271.6L1703.35,1273.6L1703.60,1272.9L1703.85,1273.6L1704.10,1272.9L1704.35,1273.6L1704.60,1273.0L1704.85,1273.6L1705.10,1272.9L1705.35,1273.6L1705.60,1272.9L1705.85,1271.2L1706.10,1271.2L1706.35,1273.5L1706.60,1271.8L1706.85,1273.5L1707.10,1271.6L1707.35,1273.5L1707.60,1271.2L1707.85,1273.5L1708.10,1271.6L1708.35,1271.2L1708.60,1273.0L1708.85,1273.5L1709.10,1273.0L1709.35,1274.1L1709.60,1273.0L1709.85,1274.1L1710.10,1273.1L1710.35,1274.1L1710.60,1273.1L1710.85,1274.1L1711.10,1273.0L1711.35,1274.1L1711.60,1273.2L1711.85,1274.1L1712.10,1272.1L1712.35,1274.1L1712.60,1272.4L1712.85,1274.1L1713.10,1272.6L1713.35,1274.1L1713.60,1272.2L1713.85,1274.1L1714.10,1272.1L1714.35,1273.3L1714.60,1273.0L1714.85,1273.3L1715.10,1273.0L1715.35,1273.3L1715.60,1273.0L1715.85,1273.3L1716.10,1273.0L1716.35,1274.0L1716.60,1273.0L1716.85,1274.0L1717.10,1273.1L1717.35,1274.1L1717.60,1273.1L1717.85,1274.1L1718.10,1273.2L1718.35,1274.1L1718.60,1273.1L1718.85,1274.1L1719.10,1273.2L1719.35,1274.0L1719.60,1273.0L1719.85,1274.0L1720.10,1271.6L1720.35,1274.0L1720.60,1271.7L1720.85,1274.0L1721.10,1272.1L1721.35,1274.0L1721.60,1271.6L1721.85,1274.0L1722.10,1273.1L1722.35,1274.0L1722.60,1273.1L1722.85,1274.0L1723.10,1273.1L1723.35,1273.4L1723.60,1273.1L1723.85,1273.4L1724.10,1273.1L1724.35,1273.4L1724.60,1273.1L1724.85,1273.4L1725.10,1273.1L1725.35,1273.4L1725.60,1273.1L1725.85,1273.4L1726.10,1273.1L1726.35,1273.4L1726.60,1273.2L1726.85,1273.2L1727.10,1273.2L1727.35,1273.2L1727.60,1273.2L1727.85,1273.2L1728.10,1273.2L1728.35,1273.2L1728.60,1266.8L1728.85,1273.3L1729.10,1267.5L1729.35,1273.3L1729.60,1268.2L1729.85,1273.3L1730.10,1266.8L1730.35,1273.3L1730.60,1272.4L1730.85,1273.5L1731.10,1272.4L1731.35,1273.5L1731.60,1272.4L1731.85,1273.5L1732.10,1272.5L1732.35,1273.5L1732.60,1272.4L1732.85,1273.5L1733.10,1273.2L1733.35,1273.5L1733.60,1273.2L1733.85,1273.5L1734.10,1273.3L1734.35,1273.5L1734.60,1273.2L1734.85,1274.4L1735.10,1273.4L1735.35,1274.4L1735.60,1273.3L1735.85,1274.4L1736.10,1273.5L1736.35,1274.4L1736.60,1273.3L1736.85,1274.4L1737.10,1273.2L1737.35,1274.4L1737.60,1273.2L1737.85,1274.4L1738.10,1273.4L1738.35,1273.4L1738.60,1273.4L1738.85,1273.4L1739.10,1273.4L1739.35,1273.4L1739.60,1273.4L1739.85,1273.4L1740.10,1273.4L1740.35,1273.4L1740.60,1273.4L1740.85,1272.0L1741.10,1272.1L1741.35,1273.4L1741.60,1272.0L1741.85,1272.0L1742.10,1273.5L1742.35,1274.1L1742.60,1273.4L1742.85,1274.1L1743.10,1273.4L1743.35,1274.1L1743.60,1273.4L1743.85,1274.1L1744.10,1273.4L1744.35,1268.7L1744.60,1269.9L1744.85,1273.7L1745.10,1269.6L1745.35,1273.7L1745.60,1268.7L1745.85,1273.7L1746.10,1273.3L1746.35,1271.9L1746.60,1272.0L1746.85,1274.0L1747.10,1271.9L1747.35,1274.0L1747.60,1272.0L1747.85,1271.9L1748.10,1273.4L1748.35,1272.4L1748.60,1272.4L1748.85,1274.0L1749.10,1272.4L1749.35,1274.0L1749.60,1272.7L1749.85,1274.0L1750.10,1272.5L1750.35,1274.0L1750.60,1272.6L1750.85,1274.0L1751.10,1272.4L1751.35,1274.0L1751.60,1273.4L1751.85,1274.2L1752.10,1273.5L1752.35,1274.2L1752.60,1273.5L1752.85,1274.2L1753.10,1273.4L1753.35,1274.2L1753.60,1273.6L1753.85,1271.8L1754.10,1271.9L1754.35,1274.2L1754.60,1272.0L1754.85,1274.5L1755.10,1272.3L1755.35,1274.5L1755.60,1271.8L1755.85,1274.5L1756.10,1273.5L1756.35,1274.5L1756.60,1273.7L1756.85,1274.5L1757.10,1273.4L1757.35,1274.1L1757.60,1273.5L1757.85,1274.1L1758.10,1273.5L1758.35,1272.8L1758.60,1273.1L1758.85,1274.1L1759.10,1273.1L1759.35,1274.1L1759.60,1272.9L1759.85,1274.1L1760.10,1273.0L1760.35,1274.1L1760.60,1273.0L1760.85,1274.1L1761.10,1272.8L1761.35,1274.1L1761.60,1273.5L1761.85,1274.5L1762.10,1272.1L1762.35,1274.5L1762.60,1272.3L1762.85,1274.5L1763.10,1272.6L1763.35,1274.5L1763.60,1272.6L1763.85,1272.1L1764.10,1272.2L1764.35,1272.1L1764.60,1273.5L1764.85,1274.5L1765.10,1273.5L1765.35,1274.5L1765.60,1273.7L1765.85,1274.5L1766.10,1273.6L1766.35,1274.5L1766.60,1271.7L1766.85,1274.5L1767.10,1272.1L1767.35,1274.5L1767.60,1272.4L1767.85,1274.4L1768.10,1271.7L1768.35,1271.7L1768.60,1272.0L1768.85,1274.4L1769.10,1272.3L1769.35,1274.4L1769.60,1271.7L1769.85,1272.3L1770.10,1272.5L1770.35,1274.4L1770.60,1272.3L1770.85,1272.3L1771.10,1268.1L1771.35,1274.3L1771.60,1268.3L1771.85,1274.3L1772.10,1269.2L1772.35,1274.3L1772.60,1268.7L1772.85,1274.3L1773.10,1269.4L1773.35,1268.1L1773.60,1268.8L1773.85,1268.1L1774.10,1272.2L1774.35,1273.7L1774.60,1272.0L1774.85,1271.8L1775.10,1272.1L1775.35,1273.7L1775.60,1272.2L1775.85,1273.7L1776.10,1271.8L1776.35,1273.7L1776.60,1273.7L1776.85,1273.7L1777.10,1273.7L1777.35,1273.7L1777.60,1273.7L1777.85,1273.7L1778.10,1273.7L1778.35,1274.2L1778.60,1273.6L1778.85,1274.2L1779.10,1273.6L1779.35,1274.2L1779.60,1273.7L1779.85,1274.2L1780.10,1273.7L1780.35,1274.2L1780.60,1273.6L1780.85,1274.2L1781.10,1273.5L1781.35,1274.2L1781.60,1273.7L1781.85,1274.2L1782.10,1273.6L1782.35,1274.2L1782.60,1273.6L1782.85,1274.0L1783.10,1273.6L1783.35,1274.0L1783.60,1273.6L1783.85,1274.0L1784.10,1273.6L1784.35,1268.7L1784.60,1269.4L1784.85,1274.0L1785.10,1269.7L1785.35,1274.0L1785.60,1268.7L1785.85,1273.9L1786.10,1273.6L1786.35,1273.9L1786.60,1273.6L1786.85,1273.9L1787.10,1273.6L1787.35,1273.9L1787.60,1273.6L1787.85,1273.8L1788.10,1273.6L1788.35,1273.8L1788.60,1273.6L1788.85,1273.8L1789.10,1273.6L1789.35,1273.8L1789.60,1273.6L1789.85,1273.8L1790.10,1273.6L1790.35,1273.8L1790.60,1273.6L1790.85,1273.8L1791.10,1273.6L1791.35,1274.7L1791.60,1273.7L1791.85,1274.7L1792.10,1273.8L1792.35,1274.7L1792.60,1273.8L1792.85,1274.7L1793.10,1273.8L1793.35,1274.7L1793.60,1273.6L1793.85,1274.7L1794.10,1273.6L1794.35,1274.8L1794.60,1273.8L1794.85,1274.8L1795.10,1273.0L1795.35,1274.7L1795.60,1273.1L1795.85,1274.7L1796.10,1273.4L1796.35,1274.7L1796.60,1273.1L1796.85,1274.7L1797.10,1273.3L1797.35,1274.7L1797.60,1273.0L1797.85,1274.7L1798.10,1273.6L1798.35,1274.7L1798.60,1273.8L1798.85,1274.7L1799.10,1273.8L1799.35,1274.7L1799.60,1273.8L1799.85,1274.7L1800.10,1273.6L1800.35,1273.9L1800.60,1273.6L1800.85,1273.9L1801.10,1273.6L1801.35,1273.9L1801.60,1273.6L1801.85,1273.9L1802.10,1273.6L1802.35,1273.9L1802.60,1273.7L1802.85,1273.9L1803.10,1273.7L1803.35,1273.9L1803.60,1273.6L1803.85,1273.9L1804.10,1273.7L1804.35,1273.9L1804.60,1273.7L1804.85,1273.9L1805.10,1273.6L1805.35,1273.9L1805.60,1273.7L1805.85,1273.9L1806.10,1273.7L1806.35,1273.9L1806.60,1273.7L1806.85,1274.0L1807.10,1273.6L1807.35,1274.0L1807.60,1273.7L1807.85,1274.0L1808.10,1273.7L1808.35,1273.1L1808.60,1273.2L1808.85,1274.0L1809.10,1273.4L1809.35,1274.7L1809.60,1273.1L1809.85,1274.7L1810.10,1273.3L1810.35,1272.0L1810.60,1272.5L1810.85,1274.7L1811.10,1272.0L1811.35,1274.7L1811.60,1272.5L1811.85,1274.7L1812.10,1272.6L1812.35,1272.0L1812.60,1273.7L1812.85,1274.7L1813.10,1273.7L1813.35,1274.7L1813.60,1273.8L1813.85,1274.3L1814.10,1273.6L1814.35,1274.3L1814.60,1273.7L1814.85,1274.3L1815.10,1273.7L1815.35,1274.3L1815.60,1273.8L1815.85,1274.3L1816.10,1273.7L1816.35,1274.3L1816.60,1273.8L1816.85,1274.3L1817.10,1273.8L1817.35,1274.3L1817.60,1273.8L1817.85,1274.4L1818.10,1273.8L1818.35,1274.4L1818.60,1273.8L1818.85,1274.4L1819.10,1273.7L1819.35,1272.2L1819.60,1272.4L1819.85,1273.9L1820.10,1272.5L1820.35,1273.9L1820.60,1272.5L1820.85,1273.9L1821.10,1272.6L1821.35,1273.9L1821.60,1272.6L1821.85,1272.2L1822.10,1272.6L1822.35,1273.9L1822.60,1272.6L1822.85,1274.7L1823.10,1272.5L1823.35,1274.7L1823.60,1273.9L1823.85,1274.7L1824.10,1273.9L1824.35,1274.7L1824.60,1273.8L1824.85,1274.0L1825.10,1273.7L1825.35,1274.0L1825.60,1273.7L1825.85,1274.0L1826.10,1273.7L1826.35,1274.0L1826.60,1273.7L1826.85,1274.0L1827.10,1273.7L1827.35,1274.0L1827.60,1273.7L1827.85,1274.0L1828.10,1273.7L1828.35,1272.7L1828.60,1272.8L1828.85,1274.0L1829.10,1272.8L1829.35,1274.0L1829.60,1272.5L1829.85,1274.1L1830.10,1272.6L1830.35,1272.5L1830.60,1272.7L1830.85,1272.5L1831.10,1273.0L1831.35,1274.1L1831.60,1273.0L1831.85,1272.7L1832.10,1273.8L1832.35,1274.0L1832.60,1273.7L1832.85,1274.0L1833.10,1272.5L1833.35,1274.0L1833.60,1272.6L1833.85,1274.3L1834.10,1272.8L1834.35,1274.3L1834.60,1272.7L1834.85,1272.4L1835.10,1272.7L1835.35,1272.4L1835.60,1272.8L1835.85,1272.4L1836.10,1272.7L1836.35,1274.3L1836.60,1272.8L1836.85,1272.4L1837.10,1273.8L1837.35,1274.1L1837.60,1273.8L1837.85,1274.1L1838.10,1273.7L1838.35,1274.1L1838.60,1273.8L1838.85,1274.1L1839.10,1273.8L1839.35,1274.1L1839.60,1273.8L1839.85,1274.1L1840.10,1273.8L1840.35,1274.1L1840.60,1273.8L1840.85,1274.2L1841.10,1273.8L1841.35,1274.2L1841.60,1273.8L1841.85,1274.2L1842.10,1273.8L1842.35,1274.2L1842.60,1273.9L1842.85,1274.2L1843.10,1273.8L1843.35,1274.2L1843.60,1273.2L1843.85,1274.2L1844.10,1273.4L1844.35,1274.4L1844.60,1273.3L1844.85,1273.2L1845.10,1273.8L1845.35,1274.4L1845.60,1273.8L1845.85,1274.4L1846.10,1273.8L1846.35,1274.4L1846.60,1273.9L1846.85,1274.4L1847.10,1273.8L1847.35,1274.2L1847.60,1273.8L1847.85,1274.2L1848.10,1273.9L1848.35,1274.2L1848.60,1273.9L1848.85,1274.2L1849.10,1273.8L1849.35,1274.2L1849.60,1273.8L1849.85,1272.2L1850.10,1272.5L1850.35,1274.2L1850.60,1272.2L1850.85,1274.2L1851.10,1272.4L1851.35,1274.2L1851.60,1272.3L1851.85,1272.2L1852.10,1270.0L1852.35,1274.3L1852.60,1270.8L1852.85,1274.3L1853.10,1270.1L1853.35,1274.3L1853.60,1271.0L1853.85,1270.0L1854.10,1273.8L1854.35,1274.3L1854.60,1273.8L1854.85,1274.3L1855.10,1273.8L1855.35,1274.3L1855.60,1273.9L1855.85,1274.4L1856.10,1273.9L1856.35,1272.3L1856.60,1272.3L1856.85,1274.4L1857.10,1272.5L1857.35,1274.4L1857.60,1272.5L1857.85,1272.3L1858.10,1273.9L1858.35,1274.4L1858.60,1273.9L1858.85,1274.4L1859.10,1274.0L1859.35,1274.4L1859.60,1273.9L1859.85,1274.4L1860.10,1273.9L1860.35,1270.6L1860.60,1270.9L1860.85,1274.9L1861.10,1271.3L1861.35,1274.9L1861.60,1271.1L1861.85,1274.9L1862.10,1270.6L1862.35,1274.9L1862.60,1274.0L1862.85,1273.1L1863.10,1273.4L1863.35,1274.9L1863.60,1273.4L1863.85,1274.1L1864.10,1272.2L1864.35,1274.1L1864.60,1272.2L1864.85,1272.2L1865.10,1272.2L1865.35,1274.1L1865.60,1272.2L1865.85,1272.2L1866.10,1273.4L1866.35,1274.1L1866.60,1273.2L1866.85,1274.1L1867.10,1273.2L1867.35,1274.1L1867.60,1273.1L1867.85,1275.1L1868.10,1273.9L1868.35,1275.1L1868.60,1274.1L1868.85,1275.1L1869.10,1274.2L1869.35,1275.1L1869.60,1274.0L1869.85,1275.1L1870.10,1273.9L1870.35,1274.3L1870.60,1273.9L1870.85,1274.3L1871.10,1273.9L1871.35,1274.3L1871.60,1273.9L1871.85,1274.3L1872.10,1274.0L1872.35,1274.0L1872.60,1274.0L1872.85,1272.8L1873.10,1272.8L1873.35,1274.0L1873.60,1272.3L1873.85,1274.0L1874.10,1272.4L1874.35,1274.0L1874.60,1272.7L1874.85,1272.3L1875.10,1272.9L1875.35,1272.8L1875.60,1274.0L1875.85,1274.0L1876.10,1274.0L1876.35,1274.0L1876.60,1274.0L1876.85,1274.3L1877.10,1272.7L1877.35,1274.3L1877.60,1272.9L1877.85,1274.3L1878.10,1272.8L1878.35,1274.3L1878.60,1272.7L1878.85,1274.3L1879.10,1273.1L1879.35,1274.6L1879.60,1272.7L1879.85,1274.6L1880.10,1272.2L1880.35,1272.2L1880.60,1272.3L1880.85,1274.6L1881.10,1272.3L1881.35,1274.4L1881.60,1272.7L1881.85,1274.4L1882.10,1272.4L1882.35,1272.2L1882.60,1272.3L1882.85,1272.2L1883.10,1274.0L1883.35,1274.4L1883.60,1274.0L1883.85,1274.4L1884.10,1274.0L1884.35,1270.6L1884.60,1270.9L1884.85,1274.4L1885.10,1271.2L1885.35,1275.0L1885.60,1270.6L1885.85,1275.0L1886.10,1274.0L1886.35,1275.0L1886.60,1274.0L1886.85,1275.0L1887.10,1274.2L1887.35,1274.7L1887.60,1274.1L1887.85,1274.7L1888.10,1274.0L1888.35,1274.7L1888.60,1274.1L1888.85,1274.7L1889.10,1274.0L1889.35,1274.7L1889.60,1274.0L1889.85,1274.7L1890.10,1274.0L1890.35,1274.7L1890.60,1274.1L1890.85,1274.7L1891.10,1274.1L1891.35,1274.7L1891.60,1274.1L1891.85,1274.7L1892.10,1274.1L1892.35,1274.7L1892.60,1274.0L1892.85,1274.7L1893.10,1274.0L1893.35,1274.7L1893.60,1274.0L1893.85,1274.6L1894.10,1274.0L1894.35,1274.6L1894.60,1274.1L1894.85,1274.6L1895.10,1274.0L1895.35,1274.6L1895.60,1274.1L1895.85,1274.6L1896.10,1274.1L1896.35,1274.6L1896.60,1274.1L1896.85,1274.6L1897.10,1274.1L1897.35,1274.6L1897.60,1274.1L1897.85,1274.5L1898.10,1274.0L1898.35,1272.6L1898.60,1273.0L1898.85,1274.5L1899.10,1272.8L1899.35,1274.5L1899.60,1273.0L1899.85,1274.5L1900.10,1272.7L1900.35,1274.5L1900.60,1273.1L1900.85,1272.6L1901.10,1274.0L1901.35,1274.5L1901.60,1274.1L1901.85,1274.5L1902.10,1274.1L1902.35,1274.2L1902.60,1274.0L1902.85,1274.2L1903.10,1272.6L1903.35,1274.2L1903.60,1272.9L1903.85,1274.2L1904.10,1272.9L1904.35,1274.2L1904.60,1272.8L1904.85,1274.2L1905.10,1272.7L1905.35,1274.2L1905.60,1272.5L1905.85,1272.5L1906.10,1272.7L1906.35,1275.0L1906.60,1272.6L1906.85,1275.0L1907.10,1272.8L1907.35,1275.0L1907.60,1272.9L1907.85,1275.0L1908.10,1273.0L1908.35,1275.0L1908.60,1272.5L1908.85,1275.0L1909.10,1262.5L1909.35,1274.4L1909.60,1264.6L1909.85,1274.4L1910.10,1263.5L1910.35,1274.4L1910.60,1262.5L1910.85,1274.4L1911.10,1263.5L1911.35,1274.4L1911.60,1264.7L1911.85,1262.5L1912.10,1271.8L1912.35,1274.4L1912.60,1270.8L1912.85,1274.4L1913.10,1271.0L1913.35,1270.8L1913.60,1271.2L1913.85,1274.9L1914.10,1251.8L1914.35,1274.9L1914.60,1251.8L1914.85,1274.9L1915.10,1251.8L1915.35,1274.9L1915.60,1251.8L1915.85,1274.9L1916.10,1251.8L1916.35,1273.5L1916.60,1273.6L1916.85,1270.7L1917.10,1271.7L1917.35,1274.9L1917.60,1270.7L1917.85,1274.6L1918.10,1267.2L1918.35,1274.6L1918.60,1268.8L1918.85,1274.6L1919.10,1268.6L1919.35,1274.6L1919.60,1267.8L1919.85,1267.2L1920.10,1267.2L1920.35,1274.6L1920.60,1268.5L1920.85,1267.2L1921.10,1273.2L1921.35,1274.3L1921.60,1273.3L1921.85,1274.3L1922.10,1273.2L1922.35,1273.1" fill="none" stroke="#0072BD" stroke-width="2.4" stroke-linejoin="round" stroke-linecap="butt"/>
<path d="M122.50,1232.7L124.50,1230.5L126.50,1228.4L128.50,1226.2L130.50,1224.0L132.50,1221.7L134.50,1219.5L136.50,1217.3L138.50,1215.0L140.50,1212.7L142.50,1210.3L144.50,1208.0L146.50,1205.7L148.50,1203.4L150.50,1201.2L152.50,1199.1L154.50,1197.0L156.50,1195.0L158.50,1193.0L160.50,1191.1L162.50,1189.2L164.50,1187.3L166.50,1185.5L168.50,1183.8L170.50,1182.1L172.50,1180.4L174.50,1178.8L176.50,1177.2L178.50,1175.7L180.50,1174.2L182.50,1172.8L184.50,1171.4L186.50,1170.1L188.50,1168.8L190.50,1167.5L192.50,1166.2L194.50,1165.0L196.50,1163.7L198.50,1162.4L200.50,1161.2L202.50,1160.0L204.50,1158.8L206.50,1157.6L208.50,1156.5L210.50,1155.4L212.50,1154.4L214.50,1153.4L216.50,1152.5L218.50,1151.5L220.50,1150.6L222.50,1149.7L224.50,1148.9L226.50,1148.0L228.50,1147.2L230.50,1146.4L232.50,1145.6L234.50,1144.8L236.50,1144.0L238.50,1143.3L240.50,1142.6L242.50,1141.9L244.50,1141.2L246.50,1140.5L248.50,1139.9L250.50,1139.3L252.50,1138.7L254.50,1138.1L256.50,1137.5L258.50,1137.0L260.50,1136.5L262.50,1136.0L264.50,1135.5L266.50,1135.0L268.50,1134.5L270.50,1134.0L272.50,1133.6L274.50,1133.1L276.50,1132.6L278.50,1132.2L280.50,1131.8L282.50,1131.3L284.50,1130.9L286.50,1130.5L288.50,1130.1L290.50,1129.7L292.50,1129.3L294.50,1128.9L296.50,1128.5L298.50,1128.1L300.50,1127.7L302.50,1127.4L304.50,1127.0L306.50,1126.6L308.50,1126.3L310.50,1125.9L312.50,1125.6L314.50,1125.2L316.50,1124.8L318.50,1124.5L320.50,1124.1L322.50,1123.8L324.50,1123.5L326.50,1123.1L328.50,1122.8L330.50,1122.5L332.50,1122.2L334.50,1121.9L336.50,1121.6L338.50,1121.3L340.50,1121.0L342.50,1120.8L344.50,1120.5L346.50,1120.2L348.50,1120.0L350.50,1119.7L352.50,1119.5L354.50,1119.2L356.50,1119.0L358.50,1118.8L360.50,1118.5L362.50,1118.3L364.50,1118.1L366.50,1117.9L368.50,1117.7L370.50,1117.5L372.50,1117.3L374.50,1117.1L376.50,1116.9L378.50,1116.7L380.50,1116.5L382.50,1116.3L384.50,1116.1L386.50,1115.8L388.50,1115.6L390.50,1115.4L392.50,1115.1L394.50,1114.9L396.50,1114.6L398.50,1114.4L400.50,1114.1L402.50,1113.9L404.50,1113.7L406.50,1113.5L408.50,1113.2L410.50,1113.0L412.50,1112.8L414.50,1112.6L416.50,1112.4L418.50,1112.2L420.50,1112.0L422.50,1111.7L424.50,1111.5L426.50,1111.3L428.50,1111.1L430.50,1110.9L432.50,1110.7L434.50,1110.5L436.50,1110.3L438.50,1110.1L440.50,1109.8L442.50,1109.6L444.50,1109.4L446.50,1109.2L448.50,1109.0L450.50,1108.8L452.50,1108.6L454.50,1108.4L456.50,1108.2L458.50,1108.0L460.50,1107.8L462.50,1107.5L464.50,1107.3L466.50,1107.1L468.50,1106.9L470.50,1106.7L472.50,1106.5L474.50,1106.3L476.50,1106.1L478.50,1105.9L480.50,1105.7L482.50,1105.5L484.50,1105.3L486.50,1105.1L488.50,1104.9L490.50,1104.6L492.50,1104.4L494.50,1104.2L496.50,1104.0L498.50,1103.8L500.50,1103.6L502.50,1103.4L504.50,1103.2L506.50,1103.0L508.50,1102.8L510.50,1102.6L512.50,1102.4L514.50,1102.1L516.50,1101.9L518.50,1101.7L520.50,1101.5L522.50,1101.3L524.50,1101.1L526.50,1100.9L528.50,1100.6L530.50,1100.4L532.50,1100.2L534.50,1100.0L536.50,1099.8L538.50,1099.6L540.50,1099.4L542.50,1099.1L544.50,1098.9L546.50,1098.7L548.50,1098.5L550.50,1098.3L552.50,1098.1L554.50,1097.9L556.50,1097.6L558.50,1097.4L560.50,1097.2L562.50,1097.0L564.50,1096.8L566.50,1096.6L568.50,1096.4L570.50,1096.1L572.50,1095.9L574.50,1095.7L576.50,1095.5L578.50,1095.3L580.50,1095.1L582.50,1094.9L584.50,1094.7L586.50,1094.5L588.50,1094.2L590.50,1094.0L592.50,1093.8L594.50,1093.6L596.50,1093.4L598.50,1093.2L600.50,1093.0L602.50,1092.8L604.50,1092.6L606.50,1092.4L608.50,1092.1L610.50,1091.9L612.50,1091.7L614.50,1091.5L616.50,1091.3L618.50,1091.1L620.50,1090.9L622.50,1090.7L624.50,1090.5L626.50,1090.3L628.50,1090.1L630.50,1089.9L632.50,1089.7L634.50,1089.5L636.50,1089.3L638.50,1089.1L640.50,1088.9L642.50,1088.7L644.50,1088.5L646.50,1088.3L648.50,1088.1L650.50,1087.9L652.50,1087.7L654.50,1087.5L656.50,1087.3L658.50,1087.1L660.50,1086.9L662.50,1086.8L664.50,1086.6L666.50,1086.4L668.50,1086.2L670.50,1086.0L672.50,1085.8L674.50,1085.6L676.50,1085.4L678.50,1085.2L680.50,1085.0L682.50,1084.8L684.50,1084.7L686.50,1084.5L688.50,1084.3L690.50,1084.1L692.50,1083.9L694.50,1083.7L696.50,1083.5L698.50,1083.3L700.50,1083.1L702.50,1083.0L704.50,1082.8L706.50,1082.6L708.50,1082.4L710.50,1082.2L712.50,1082.0L714.50,1081.8L716.50,1081.7L718.50,1081.5L720.50,1081.3L722.50,1081.1L724.50,1080.9L726.50,1080.8L728.50,1080.6L730.50,1080.4L732.50,1080.2L734.50,1080.1L736.50,1079.9L738.50,1079.7L740.50,1079.6L742.50,1079.4L744.50,1079.2L746.50,1079.1L748.50,1078.9L750.50,1078.7L752.50,1078.6L754.50,1078.4L756.50,1078.3L758.50,1078.1L760.50,1078.0L762.50,1077.8L764.50,1077.6L766.50,1077.5L768.50,1077.3L770.50,1077.2L772.50,1077.0L774.50,1076.9L776.50,1076.7L778.50,1076.6L780.50,1076.4L782.50,1076.3L784.50,1076.1L786.50,1076.0L788.50,1075.9L790.50,1075.7L792.50,1075.6L794.50,1075.4L796.50,1075.3L798.50,1075.1L800.50,1075.0L802.50,1074.8L804.50,1074.7L806.50,1074.5L808.50,1074.4L810.50,1074.2L812.50,1074.1L814.50,1074.0L816.50,1073.8L818.50,1073.7L820.50,1073.5L822.50,1073.4L824.50,1073.3L826.50,1073.1L828.50,1073.0L830.50,1072.8L832.50,1072.7L834.50,1072.6L836.50,1072.4L838.50,1072.3L840.50,1072.1L842.50,1072.0L844.50,1071.9L846.50,1071.7L848.50,1071.6L850.50,1071.5L852.50,1071.3L854.50,1071.2L856.50,1071.1L858.50,1070.9L860.50,1070.8L862.50,1070.7L864.50,1070.5L866.50,1070.4L868.50,1070.3L870.50,1070.2L872.50,1070.0L874.50,1069.9L876.50,1069.8L878.50,1069.7L880.50,1069.5L882.50,1069.4L884.50,1069.3L886.50,1069.1L888.50,1069.0L890.50,1068.9L892.50,1068.8L894.50,1068.6L896.50,1068.5L898.50,1068.4L900.50,1068.3L902.50,1068.1L904.50,1068.0L906.50,1067.9L908.50,1067.8L910.50,1067.6L912.50,1067.5L914.50,1067.4L916.50,1067.3L918.50,1067.1L920.50,1067.0L922.50,1066.9L924.50,1066.7L926.50,1066.6L928.50,1066.5L930.50,1066.4L932.50,1066.2L934.50,1066.1L936.50,1066.0L938.50,1065.9L940.50,1065.7L942.50,1065.6L944.50,1065.5L946.50,1065.4L948.50,1065.3L950.50,1065.1L952.50,1065.0L954.50,1064.9L956.50,1064.8L958.50,1064.6L960.50,1064.5L962.50,1064.4L964.50,1064.3L966.50,1064.2L968.50,1064.0L970.50,1063.9L972.50,1063.8L974.50,1063.7L976.50,1063.6L978.50,1063.5L980.50,1063.3L982.50,1063.2L984.50,1063.1L986.50,1063.0L988.50,1062.9L990.50,1062.8L992.50,1062.6L994.50,1062.5L996.50,1062.4L998.50,1062.3L1000.50,1062.2L1002.50,1062.1L1004.50,1062.0L1006.50,1061.9L1008.50,1061.7L1010.50,1061.6L1012.50,1061.5L1014.50,1061.4L1016.50,1061.3L1018.50,1061.2L1020.50,1061.1L1022.50,1061.0L1024.50,1060.9L1026.50,1060.8L1028.50,1060.7L1030.50,1060.6L1032.50,1060.5L1034.50,1060.4L1036.50,1060.3L1038.50,1060.2L1040.50,1060.1L1042.50,1060.0L1044.50,1059.9L1046.50,1059.8L1048.50,1059.7L1050.50,1059.6L1052.50,1059.5L1054.50,1059.4L1056.50,1059.3L1058.50,1059.2L1060.50,1059.1L1062.50,1059.0L1064.50,1059.0L1066.50,1058.9L1068.50,1058.8L1070.50,1058.7L1072.50,1058.6L1074.50,1058.5L1076.50,1058.4L1078.50,1058.3L1080.50,1058.2L1082.50,1058.1L1084.50,1058.0L1086.50,1057.9L1088.50,1057.9L1090.50,1057.8L1092.50,1057.7L1094.50,1057.6L1096.50,1057.5L1098.50,1057.4L1100.50,1057.3L1102.50,1057.2L1104.50,1057.1L1106.50,1057.1L1108.50,1057.0L1110.50,1056.9L1112.50,1056.8L1114.50,1056.7L1116.50,1056.7L1118.50,1056.6L1120.50,1056.5L1122.50,1056.4L1124.50,1056.4L1126.50,1056.3L1128.50,1056.2L1130.50,1056.2L1132.50,1056.1L1134.50,1056.0L1136.50,1056.0L1138.50,1055.9L1140.50,1055.9L1142.50,1055.8L1144.50,1055.7L1146.50,1055.7L1148.50,1055.6L1150.50,1055.6L1152.50,1055.5L1154.50,1055.4L1156.50,1055.4L1158.50,1055.3L1160.50,1055.3L1162.50,1055.2L1164.50,1055.2L1166.50,1055.1L1168.50,1055.1L1170.50,1055.0L1172.50,1055.0L1174.50,1054.9L1176.50,1054.9L1178.50,1054.8L1180.50,1054.8L1182.50,1054.7L1184.50,1054.7L1186.50,1054.6L1188.50,1054.6L1190.50,1054.5L1192.50,1054.5L1194.50,1054.4L1196.50,1054.4L1198.50,1054.3L1200.50,1054.3L1202.50,1054.2L1204.50,1054.2L1206.50,1054.1L1208.50,1054.1L1210.50,1054.0L1212.50,1054.0L1214.50,1054.0L1216.50,1053.9L1218.50,1053.9L1220.50,1053.8L1222.50,1053.8L1224.50,1053.7L1226.50,1053.7L1228.50,1053.6L1230.50,1053.6L1232.50,1053.6L1234.50,1053.5L1236.50,1053.5L1238.50,1053.4L1240.50,1053.4L1242.50,1053.3L1244.50,1053.3L1246.50,1053.3L1248.50,1053.2L1250.50,1053.2L1252.50,1053.1L1254.50,1053.1L1256.50,1053.1L1258.50,1053.0L1260.50,1053.0L1262.50,1052.9L1264.50,1052.9L1266.50,1052.9L1268.50,1052.8L1270.50,1052.8L1272.50,1052.7L1274.50,1052.7L1276.50,1052.7L1278.50,1052.6L1280.50,1052.6L1282.50,1052.6L1284.50,1052.5L1286.50,1052.5L1288.50,1052.4L1290.50,1052.4L1292.50,1052.4L1294.50,1052.3L1296.50,1052.3L1298.50,1052.3L1300.50,1052.2L1302.50,1052.2L1304.50,1052.1L1306.50,1052.1L1308.50,1052.1L1310.50,1052.0L1312.50,1052.0L1314.50,1052.0L1316.50,1051.9L1318.50,1051.9L1320.50,1051.9L1322.50,1051.8L1324.50,1051.8L1326.50,1051.7L1328.50,1051.7L1330.50,1051.7L1332.50,1051.6L1334.50,1051.6L1336.50,1051.6L1338.50,1051.5L1340.50,1051.5L1342.50,1051.5L1344.50,1051.4L1346.50,1051.4L1348.50,1051.4L1350.50,1051.3L1352.50,1051.3L1354.50,1051.3L1356.50,1051.2L1358.50,1051.2L1360.50,1051.2L1362.50,1051.1L1364.50,1051.1L1366.50,1051.1L1368.50,1051.1L1370.50,1051.0L1372.50,1051.0L1374.50,1051.0L1376.50,1050.9L1378.50,1050.9L1380.50,1050.9L1382.50,1050.8L1384.50,1050.8L1386.50,1050.8L1388.50,1050.7L1390.50,1050.7L1392.50,1050.7L1394.50,1050.7L1396.50,1050.6L1398.50,1050.6L1400.50,1050.6L1402.50,1050.6L1404.50,1050.5L1406.50,1050.5L1408.50,1050.5L1410.50,1050.5L1412.50,1050.5L1414.50,1050.4L1416.50,1050.4L1418.50,1050.4L1420.50,1050.4L1422.50,1050.4L1424.50,1050.3L1426.50,1050.3L1428.50,1050.3L1430.50,1050.3L1432.50,1050.3L1434.50,1050.3L1436.50,1050.2L1438.50,1050.2L1440.50,1050.2L1442.50,1050.2L1444.50,1050.2L1446.50,1050.1L1448.50,1050.1L1450.50,1050.1L1452.50,1050.1L1454.50,1050.1L1456.50,1050.0L1458.50,1050.0L1460.50,1050.0L1462.50,1050.0L1464.50,1050.0L1466.50,1049.9L1468.50,1049.9L1470.50,1049.9L1472.50,1049.9L1474.50,1049.9L1476.50,1049.9L1478.50,1049.8L1480.50,1049.8L1482.50,1049.8L1484.50,1049.8L1486.50,1049.8L1488.50,1049.8L1490.50,1049.8L1492.50,1049.8L1494.50,1049.7L1496.50,1049.7L1498.50,1049.7L1500.50,1049.7L1502.50,1049.7L1504.50,1049.7L1506.50,1049.7L1508.50,1049.7L1510.50,1049.7L1512.50,1049.7L1514.50,1049.6L1516.50,1049.6L1518.50,1049.6L1520.50,1049.6L1522.50,1049.6L1524.50,1049.6L1526.50,1049.6L1528.50,1049.6L1530.50,1049.6L1532.50,1049.6L1534.50,1049.6L1536.50,1049.6L1538.50,1049.6L1540.50,1049.5L1542.50,1049.5L1544.50,1049.5L1546.50,1049.5L1548.50,1049.5L1550.50,1049.5L1552.50,1049.5L1554.50,1049.5L1556.50,1049.5L1558.50,1049.5L1560.50,1049.5L1562.50,1049.5L1564.50,1049.5L1566.50,1049.4L1568.50,1049.4L1570.50,1049.4L1572.50,1049.4L1574.50,1049.4L1576.50,1049.4L1578.50,1049.4L1580.50,1049.4L1582.50,1049.4L1584.50,1049.4L1586.50,1049.4L1588.50,1049.4L1590.50,1049.4L1592.50,1049.3L1594.50,1049.3L1596.50,1049.3L1598.50,1049.3L1600.50,1049.3L1602.50,1049.3L1604.50,1049.3L1606.50,1049.3L1608.50,1049.3L1610.50,1049.3L1612.50,1049.3L1614.50,1049.3L1616.50,1049.3L1618.50,1049.3L1620.50,1049.2L1622.50,1049.2L1624.50,1049.2L1626.50,1049.2L1628.50,1049.2L1630.50,1049.2L1632.50,1049.2L1634.50,1049.2L1636.50,1049.2L1638.50,1049.2L1640.50,1049.2L1642.50,1049.2L1644.50,1049.2L1646.50,1049.2L1648.50,1049.2L1650.50,1049.1L1652.50,1049.1L1654.50,1049.1L1656.50,1049.1L1658.50,1049.1L1660.50,1049.1L1662.50,1049.1L1664.50,1049.1L1666.50,1049.1L1668.50,1049.1L1670.50,1049.1L1672.50,1049.1L1674.50,1049.1L1676.50,1049.1L1678.50,1049.1L1680.50,1049.1L1682.50,1049.0L1684.50,1049.0L1686.50,1049.0L1688.50,1049.0L1690.50,1049.0L1692.50,1049.0L1694.50,1049.0L1696.50,1049.0L1698.50,1049.0L1700.50,1049.0L1702.50,1049.0L1704.50,1049.0L1706.50,1049.0L1708.50,1049.0L1710.50,1048.9L1712.50,1048.9L1714.50,1048.9L1716.50,1048.9L1718.50,1048.9L1720.50,1048.9L1722.50,1048.9L1724.50,1048.9L1726.50,1048.9L1728.50,1048.9L1730.50,1048.9L1732.50,1048.9L1734.50,1048.9L1736.50,1048.9L1738.50,1048.9L1740.50,1048.9L1742.50,1048.9L1744.50,1048.8L1746.50,1048.8L1748.50,1048.8L1750.50,1048.8L1752.50,1048.8L1754.50,1048.8L1756.50,1048.8L1758.50,1048.8L1760.50,1048.8L1762.50,1048.8L1764.50,1048.8L1766.50,1048.8L1768.50,1048.8L1770.50,1048.8L1772.50,1048.8L1774.50,1048.8L1776.50,1048.8L1778.50,1048.8L1780.50,1048.8L1782.50,1048.8L1784.50,1048.8L1786.50,1048.8L1788.50,1048.8L1790.50,1048.8L1792.50,1048.8L1794.50,1048.8L1796.50,1048.8L1798.50,1048.8L1800.50,1048.8L1802.50,1048.8L1804.50,1048.8L1806.50,1048.8L1808.50,1048.8L1810.50,1048.8L1812.50,1048.8L1814.50,1048.8L1816.50,1048.8L1818.50,1048.8L1820.50,1048.8L1822.50,1048.8L1824.50,1048.8L1826.50,1048.8L1828.50,1048.8L1830.50,1048.8L1832.50,1048.8L1834.50,1048.8L1836.50,1048.8L1838.50,1048.8L1840.50,1048.8L1842.50,1048.8L1844.50,1048.8L1846.50,1048.8L1848.50,1048.8L1850.50,1048.8L1852.50,1048.8L1854.50,1048.8L1856.50,1048.8L1858.50,1048.8L1860.50,1048.8L1862.50,1048.8L1864.50,1048.8L1866.50,1048.8L1868.50,1048.8L1870.50,1048.8L1872.50,1048.8L1874.50,1048.8L1876.50,1048.8L1878.50,1048.8L1880.50,1048.8L1882.50,1048.8L1884.50,1048.8L1886.50,1048.8L1888.50,1048.8L1890.50,1048.8L1892.50,1048.8L1894.50,1048.8L1896.50,1048.8L1898.50,1048.8L1900.50,1048.8L1902.50,1048.8L1904.50,1048.8L1906.50,1048.8L1908.50,1048.8L1910.50,1048.8L1912.50,1048.8L1914.50,1048.8L1916.50,1048.8L1918.50,1048.8L1920.50,1048.8L1921.20,1048.8" fill="none" stroke="#D95319" stroke-width="2.9" stroke-linejoin="round" stroke-linecap="butt"/>
<text transform="translate(316.50,1428.90) scale(1.0,1.05)" font-size="42.4" text-anchor="middle" fill="#2b2b2b">1000</text>
<text transform="translate(516.77,1428.90) scale(1.0,1.05)" font-size="42.4" text-anchor="middle" fill="#2b2b2b">2000</text>
<text transform="translate(717.25,1428.90) scale(1.0,1.05)" font-size="42.4" text-anchor="middle" fill="#2b2b2b">3000</text>
<text transform="translate(919.62,1428.90) scale(1.0,1.05)" font-size="42.4" text-anchor="middle" fill="#2b2b2b">4000</text>
<text transform="translate(1120.00,1428.90) scale(1.0,1.05)" font-size="42.4" text-anchor="middle" fill="#2b2b2b">5000</text>
<text transform="translate(1320.47,1428.90) scale(1.0,1.05)" font-size="42.4" text-anchor="middle" fill="#2b2b2b">6000</text>
<text transform="translate(1520.85,1428.90) scale(1.0,1.05)" font-size="42.4" text-anchor="middle" fill="#2b2b2b">7000</text>
<text transform="translate(1721.22,1428.90) scale(1.0,1.05)" font-size="42.4" text-anchor="middle" fill="#2b2b2b">8000</text>
<text transform="translate(1921.60,1428.90) scale(1.0,1.05)" font-size="42.4" text-anchor="middle" fill="#2b2b2b">9000</text>
<text transform="translate(2121.28,1428.90) scale(1.0,1.05)" font-size="42.4" text-anchor="middle" fill="#2b2b2b">10000</text>
<text transform="translate(105.20,47.00) scale(1.0,1.05)" font-size="42.4" text-anchor="end" fill="#2b2b2b">140</text>
<text transform="translate(105.20,237.80) scale(1.0,1.05)" font-size="42.4" text-anchor="end" fill="#2b2b2b">120</text>
<text transform="translate(105.20,429.80) scale(1.0,1.05)" font-size="42.4" text-anchor="end" fill="#2b2b2b">100</text>
<text transform="translate(105.20,620.60) scale(1.0,1.05)" font-size="42.4" text-anchor="end" fill="#2b2b2b">80</text>
<text transform="translate(105.20,810.80) scale(1.0,1.05)" font-size="42.4" text-anchor="end" fill="#2b2b2b">60</text>
<text transform="translate(105.20,1002.60) scale(1.0,1.05)" font-size="42.4" text-anchor="end" fill="#2b2b2b">40</text>
<text transform="translate(105.20,1194.50) scale(1.0,1.05)" font-size="42.4" text-anchor="end" fill="#2b2b2b">20</text>
<text transform="translate(105.20,1385.80) scale(1.0,1.05)" font-size="42.4" text-anchor="end" fill="#2b2b2b">0</text>
<text transform="translate(1122.00,1493.80) scale(1.0,1.02)" font-size="47.2" text-anchor="middle" fill="#2b2b2b">Steps</text>
<line x1="1557.4" y1="183.6" x2="1706" y2="182.3" stroke="#D95319" stroke-width="2.5"/>
<line x1="1557.4" y1="285.7" x2="1707.6" y2="284.4" stroke="#0072BD" stroke-width="2.5"/>
<text transform="translate(1761.20,198.30) scale(1.0,1.03)" font-size="43.9" text-anchor="start" fill="#000">PSNR</text>
<text transform="translate(1761.20,293.80) scale(1.0,1.04)" font-size="46.7" text-anchor="start" fill="#000">Loss*1,000</text>
<g stroke="#1a1a1a" stroke-width="4.1" stroke-dasharray="21.4 13.2" fill="none">
<line x1="1484" y1="1052.2" x2="1484" y2="1350"/>
<line x1="1813.75" y1="1043.6" x2="1813.75" y2="1350"/>
</g>
<polygon points="1484.00,1368.60 1469.00,1331.10 1484.00,1343.85 1499.00,1331.10" fill="#000"/>
<polygon points="1813.75,1368.60 1798.75,1331.10 1813.75,1343.85 1828.75,1331.10" fill="#000"/>
<circle cx="1484.2" cy="1049.6" r="13" fill="#000"/>
<circle cx="1813.8" cy="1048.3" r="13" fill="#000"/>
<circle cx="1484.1" cy="1270.4" r="13" fill="#000"/>
<circle cx="1813.9" cy="1273.8" r="13" fill="#000"/>
<rect x="1327.1" y="900.0" width="193.6" height="72.2" fill="#fff" stroke="#777" stroke-width="3.0"/>
<rect x="1766.9" y="895.6" width="271.0" height="72.2" fill="#fff" stroke="#777" stroke-width="3.0"/>
<text transform="translate(1344.60,946.80) scale(1.0,1.045)" font-size="35.9" text-anchor="start" fill="#111">33.31dB</text>
<text transform="translate(1783.00,942.30) scale(1.0,1.045)" font-size="36.0" text-anchor="start" fill="#111">Max:33.46dB</text>
<line x1="1434.7" y1="981.0" x2="1459.43" y2="1007.06" stroke="#000" stroke-width="3.2"/><polygon points="1473.70,1022.10 1438.76,1005.62 1457.84,1005.39 1459.08,986.35" fill="#000"/>
<line x1="1882.5" y1="978.6" x2="1843.26" y2="1010.68" stroke="#000" stroke-width="3.2"/><polygon points="1827.20,1023.80 1846.21,990.18 1845.04,1009.22 1863.93,1011.86" fill="#000"/>
<text transform="translate(1370.00,1319.90) scale(1.0,1.065)" font-size="42.7" text-anchor="start" fill="#111">6819</text>
<text transform="translate(1838.00,1332.50) scale(1.0,1.065)" font-size="42.4" text-anchor="start" fill="#111">8463</text>
</svg>
</body>
</html>
